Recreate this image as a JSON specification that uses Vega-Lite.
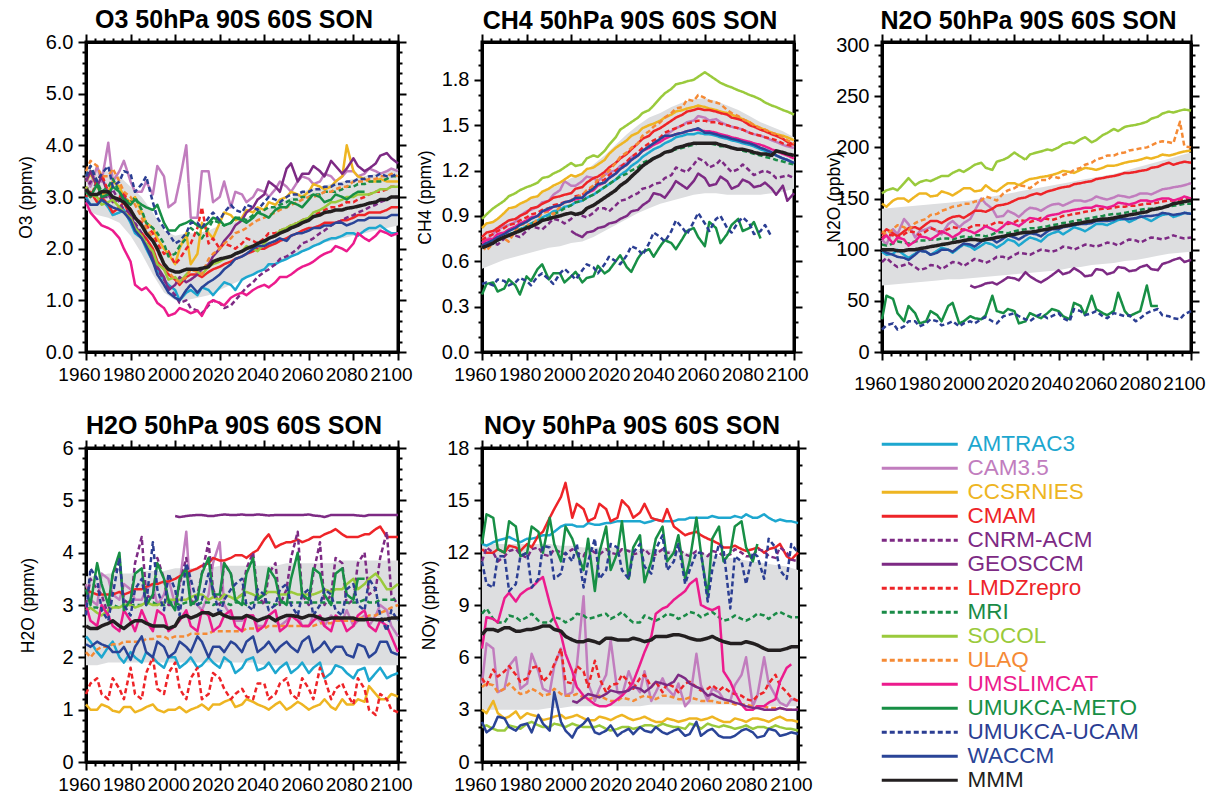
{
"$schema": "https://vega.github.io/schema/vega-lite/v6.json",
"padding": {"left": 15, "top": 6, "right": 5, "bottom": 0},
"background": "white",
"bounds": "flush",
"columns": 3,
"spacing": {"row": 96, "column": 84},
"config": {
  "font": "Liberation Sans",
  "view": {"stroke": "black", "strokeWidth": 3},
  "axis": {"domainColor": "black", "domainWidth": 3, "tickColor": "black", "tickWidth": 2, "labelColor": "black", "titleColor": "black", "grid": false, "labelOverlap": false, "labelFlush": false},
  "title": {"fontSize": 25, "fontWeight": "bold", "font": "Liberation Sans", "color": "black", "anchor": "middle", "frame": "group", "offset": -1, "dx": -8}
},
"datasets": {
"names": [{"k":"a","name":"AMTRAC3"},{"k":"b","name":"CAM3.5"},{"k":"c","name":"CCSRNIES"},{"k":"d","name":"CMAM"},{"k":"e","name":"CNRM-ACM"},{"k":"f","name":"GEOSCCM"},{"k":"g","name":"LMDZrepro"},{"k":"h","name":"MRI"},{"k":"i","name":"SOCOL"},{"k":"j","name":"ULAQ"},{"k":"k","name":"UMSLIMCAT"},{"k":"l","name":"UMUKCA-METO"},{"k":"m","name":"UMUKCA-UCAM"},{"k":"n","name":"WACCM"},{"k":"z","name":"MMM"}],
"o3": [
{"yr":1960,"a":3.0,"b":3.4,"c":3.3,"d":3.0,"e":3.1,"f":3.3,"g":3.2,"h":3.4,"i":3.2,"j":3.5,"k":2.9,"l":3.1,"m":3.4,"n":2.95,"z":3.15,"lo":2.75,"hi":3.55},
{"yr":1965,"a":2.85,"b":3.6,"c":3.2,"d":2.9,"e":3.2,"f":3.2,"g":3.3,"h":3.3,"i":3.0,"j":3.6,"k":2.55,"l":3.25,"m":3.3,"n":2.85,"z":3.05,"lo":2.65,"hi":3.5},
{"yr":1970,"a":2.8,"b":4.05,"c":3.1,"d":2.85,"e":3.0,"f":3.05,"g":3.1,"h":3.2,"i":2.9,"j":3.4,"k":2.4,"l":3.05,"m":3.6,"n":2.85,"z":3.1,"lo":2.6,"hi":3.5},
{"yr":1975,"a":2.7,"b":3.5,"c":3.2,"d":2.8,"e":2.9,"f":2.95,"g":3.0,"h":3.1,"i":2.8,"j":3.3,"k":2.2,"l":3.1,"m":3.3,"n":2.75,"z":2.95,"lo":2.5,"hi":3.4},
{"yr":1980,"a":2.5,"b":3.3,"c":2.9,"d":2.6,"e":2.7,"f":2.65,"g":2.75,"h":2.9,"i":2.6,"j":3.0,"k":1.75,"l":2.85,"m":3.45,"n":2.55,"z":2.75,"lo":2.25,"hi":3.2},
{"yr":1985,"a":2.2,"b":3.1,"c":2.7,"d":2.3,"e":2.3,"f":2.25,"g":2.5,"h":2.75,"i":2.25,"j":2.6,"k":1.2,"l":2.85,"m":3.25,"n":2.2,"z":2.45,"lo":1.9,"hi":3.0},
{"yr":1990,"a":1.75,"b":3.05,"c":2.4,"d":2.0,"e":1.9,"f":1.85,"g":2.3,"h":2.4,"i":1.95,"j":2.2,"k":1.1,"l":2.75,"m":2.9,"n":1.75,"z":2.15,"lo":1.5,"hi":2.7},
{"yr":1995,"a":1.4,"b":3.4,"c":2.0,"d":1.6,"e":1.4,"f":1.45,"g":1.9,"h":2.1,"i":1.6,"j":1.7,"k":0.85,"l":2.5,"m":2.4,"n":1.3,"z":1.7,"lo":1.15,"hi":2.35},
{"yr":2000,"a":1.2,"b":2.9,"c":1.7,"d":1.4,"e":1.1,"f":1.3,"g":1.7,"h":1.9,"i":1.45,"j":1.4,"k":0.75,"l":2.35,"m":2.1,"n":1.05,"z":1.55,"lo":1.0,"hi":2.25},
{"yr":2005,"a":1.15,"b":4.0,"c":2.3,"d":1.45,"e":1.0,"f":1.35,"g":2.0,"h":2.2,"i":1.5,"j":1.45,"k":0.8,"l":2.5,"m":2.3,"n":1.2,"z":1.6,"lo":1.0,"hi":2.3},
{"yr":2010,"a":1.1,"b":2.6,"c":1.9,"d":1.5,"e":0.8,"f":1.5,"g":2.4,"h":2.3,"i":1.55,"j":1.55,"k":0.8,"l":2.45,"m":2.5,"n":1.15,"z":1.6,"lo":1.05,"hi":2.3},
{"yr":2015,"a":1.2,"b":3.5,"c":2.3,"d":1.55,"e":0.9,"f":1.7,"g":2.1,"h":2.4,"i":1.65,"j":1.8,"k":0.95,"l":2.5,"m":2.6,"n":1.35,"z":1.65,"lo":1.1,"hi":2.35},
{"yr":2020,"a":1.25,"b":3.0,"c":2.5,"d":1.65,"e":0.95,"f":2.0,"g":2.0,"h":2.5,"i":1.75,"j":2.0,"k":0.95,"l":2.55,"m":2.55,"n":1.5,"z":1.8,"lo":1.2,"hi":2.45},
{"yr":2025,"a":1.3,"b":2.8,"c":2.65,"d":1.75,"e":0.9,"f":2.3,"g":2.05,"h":2.5,"i":1.85,"j":2.2,"k":1.05,"l":2.5,"m":2.85,"n":1.7,"z":1.85,"lo":1.3,"hi":2.5},
{"yr":2030,"a":1.4,"b":3.05,"c":2.6,"d":1.85,"e":1.15,"f":2.55,"g":2.1,"h":2.6,"i":1.95,"j":2.35,"k":1.15,"l":2.55,"m":2.7,"n":1.85,"z":1.95,"lo":1.4,"hi":2.55},
{"yr":2035,"a":1.5,"b":3.0,"c":2.7,"d":1.95,"e":1.35,"f":2.8,"g":2.15,"h":2.65,"i":2.0,"j":2.5,"k":1.2,"l":2.6,"m":2.8,"n":2.0,"z":2.05,"lo":1.5,"hi":2.65},
{"yr":2040,"a":1.6,"b":3.1,"c":2.75,"d":2.0,"e":1.55,"f":3.05,"g":2.2,"h":2.75,"i":2.1,"j":2.6,"k":1.3,"l":2.65,"m":2.9,"n":2.05,"z":2.15,"lo":1.6,"hi":2.75},
{"yr":2045,"a":1.7,"b":3.15,"c":2.85,"d":2.1,"e":1.7,"f":3.2,"g":2.3,"h":2.8,"i":2.25,"j":2.7,"k":1.35,"l":2.75,"m":2.95,"n":2.15,"z":2.25,"lo":1.7,"hi":2.85},
{"yr":2050,"a":1.8,"b":3.2,"c":3.0,"d":2.2,"e":1.85,"f":3.55,"g":2.4,"h":2.9,"i":2.4,"j":2.8,"k":1.45,"l":2.8,"m":3.0,"n":2.15,"z":2.35,"lo":1.8,"hi":2.95},
{"yr":2055,"a":1.9,"b":3.3,"c":3.05,"d":2.3,"e":2.0,"f":3.3,"g":2.5,"h":2.95,"i":2.5,"j":2.9,"k":1.6,"l":2.85,"m":3.05,"n":2.3,"z":2.45,"lo":1.9,"hi":3.05},
{"yr":2060,"a":2.0,"b":3.35,"c":3.1,"d":2.4,"e":2.15,"f":3.45,"g":2.6,"h":3.0,"i":2.6,"j":3.0,"k":1.7,"l":2.95,"m":3.1,"n":2.35,"z":2.55,"lo":2.0,"hi":3.15},
{"yr":2065,"a":2.1,"b":3.3,"c":3.2,"d":2.45,"e":2.3,"f":3.5,"g":2.7,"h":3.05,"i":2.75,"j":3.05,"k":1.85,"l":3.0,"m":3.15,"n":2.4,"z":2.65,"lo":2.1,"hi":3.2},
{"yr":2070,"a":2.2,"b":3.4,"c":3.2,"d":2.5,"e":2.45,"f":3.7,"g":2.8,"h":3.1,"i":2.9,"j":3.1,"k":1.95,"l":2.95,"m":3.2,"n":2.45,"z":2.72,"lo":2.15,"hi":3.25},
{"yr":2075,"a":2.25,"b":3.4,"c":3.4,"d":2.55,"e":2.55,"f":3.45,"g":2.85,"h":3.15,"i":2.95,"j":3.2,"k":2.0,"l":3.0,"m":3.25,"n":2.5,"z":2.75,"lo":2.2,"hi":3.3},
{"yr":2080,"a":2.3,"b":3.5,"c":3.5,"d":2.6,"e":2.65,"f":3.75,"g":2.9,"h":3.2,"i":3.0,"j":3.3,"k":2.1,"l":3.05,"m":3.3,"n":2.5,"z":2.8,"lo":2.25,"hi":3.35},
{"yr":2085,"a":2.35,"b":3.45,"c":3.35,"d":2.65,"e":2.75,"f":3.5,"g":3.0,"h":3.25,"i":3.05,"j":3.3,"k":2.2,"l":3.1,"m":3.35,"n":2.55,"z":2.85,"lo":2.3,"hi":3.4},
{"yr":2090,"a":2.4,"b":3.5,"c":3.3,"d":2.7,"e":2.85,"f":3.65,"g":3.1,"h":3.3,"i":3.1,"j":3.35,"k":2.25,"m":3.4,"n":2.6,"z":2.9,"lo":2.35,"hi":3.45},
{"yr":2095,"a":2.35,"b":3.5,"c":3.3,"d":2.75,"e":2.95,"f":3.85,"g":3.15,"h":3.35,"i":3.15,"j":3.4,"k":2.3,"m":3.4,"n":2.6,"z":2.95,"lo":2.4,"hi":3.5},
{"yr":2100,"a":2.3,"b":3.5,"c":3.3,"d":2.8,"e":3.0,"f":3.65,"g":3.2,"h":3.4,"i":3.2,"j":3.4,"k":2.3,"m":3.45,"n":2.65,"z":3.0,"lo":2.45,"hi":3.55},
{"yr":1962,"a":2.85,"b":3.2,"c":3.45,"d":3.1,"e":3.3,"f":3.5,"g":3.0,"h":3.6,"i":3.05,"j":3.7,"k":2.7,"l":3.0,"m":3.6,"n":2.85,"z":3.05},
{"yr":1967,"a":2.95,"b":3.3,"c":3.05,"d":3.0,"e":3.0,"f":3.4,"g":3.45,"h":3.1,"i":2.85,"j":3.4,"k":2.45,"l":3.0,"m":3.45,"n":2.95,"z":3.1},
{"yr":1972,"a":2.65,"b":3.3,"c":3.3,"d":2.7,"e":3.15,"f":2.9,"g":2.95,"h":3.35,"i":2.95,"j":3.55,"k":2.35,"l":3.2,"m":3.2,"n":2.8,"z":3.0},
{"yr":1977,"a":2.75,"b":3.7,"c":3.0,"d":2.9,"e":2.75,"f":3.05,"g":3.1,"h":2.95,"i":2.7,"j":3.1,"k":2.0,"l":2.95,"m":3.5,"n":2.7,"z":2.9},
{"yr":1982,"a":2.3,"b":3.1,"c":3.0,"d":2.4,"e":2.5,"f":2.45,"g":2.6,"h":3.0,"i":2.4,"j":2.85,"k":1.3,"l":2.95,"m":3.1,"n":2.35,"z":2.6},
{"yr":1987,"a":2.0,"b":3.3,"c":2.5,"d":2.2,"e":2.1,"f":2.05,"g":2.45,"h":2.5,"i":2.1,"j":2.4,"k":1.25,"l":2.8,"m":3.4,"n":2.05,"z":2.3},
{"yr":1992,"a":1.6,"b":3.6,"c":2.2,"d":1.75,"e":1.6,"f":1.65,"g":2.1,"h":2.3,"i":1.7,"j":1.95,"k":0.95,"l":2.85,"m":2.6,"n":1.5,"z":2.0},
{"yr":1997,"a":1.3,"b":2.8,"c":1.9,"d":1.5,"e":1.25,"f":1.2,"g":1.95,"h":1.85,"i":1.4,"j":1.55,"k":0.7,"l":2.35,"m":2.3,"n":1.15,"z":1.6},
{"yr":2002,"a":1.0,"b":3.3,"c":2.0,"d":1.3,"e":0.95,"f":1.45,"g":1.8,"h":2.05,"i":1.35,"j":1.35,"k":0.85,"l":2.45,"m":2.15,"n":1.0,"z":1.55},
{"yr":2007,"a":1.2,"b":2.6,"c":1.7,"d":1.5,"e":0.85,"f":1.4,"g":2.1,"h":2.4,"i":1.6,"j":1.6,"k":0.75,"l":2.55,"m":2.5,"n":1.3,"z":1.6},
{"yr":2012,"a":1.25,"b":3.5,"c":2.5,"d":1.45,"e":0.75,"f":1.6,"g":2.8,"h":2.2,"i":1.5,"j":1.5,"k":0.7,"l":2.4,"m":2.4,"n":1.25,"z":1.62},
{"yr":2017,"a":1.1,"b":2.9,"c":2.2,"d":1.6,"e":1.0,"f":1.85,"g":2.2,"h":2.55,"i":1.7,"j":1.9,"k":1.0,"l":2.6,"m":2.7,"n":1.4,"z":1.75},
{"yr":2022,"a":1.35,"b":3.3,"c":2.7,"d":1.7,"e":0.85,"f":2.15,"g":2.1,"h":2.45,"i":1.8,"j":2.1,"k":0.9,"l":2.45,"m":2.7,"n":1.6,"z":1.82},
{"yr":2027,"a":1.2,"b":3.1,"c":2.55,"d":1.8,"e":1.0,"f":2.45,"g":2.0,"h":2.6,"i":1.9,"j":2.3,"k":1.1,"l":2.6,"m":2.75,"n":1.8,"z":1.9},
{"yr":2032,"a":1.45,"b":2.9,"c":2.75,"d":1.9,"e":1.25,"f":2.7,"g":2.2,"h":2.55,"i":2.05,"j":2.4,"k":1.1,"l":2.5,"m":2.85,"n":1.9,"z":2.0},
{"yr":2037,"a":1.55,"b":3.15,"c":2.8,"d":2.0,"e":1.45,"f":2.95,"g":2.1,"h":2.7,"i":1.95,"j":2.55,"k":1.25,"l":2.7,"m":2.75,"n":2.05,"z":2.1},
{"yr":2042,"a":1.7,"b":3.0,"c":2.9,"d":2.05,"e":1.6,"f":3.3,"g":2.3,"h":2.8,"i":2.2,"j":2.65,"k":1.25,"l":2.6,"m":3.0,"n":2.1,"z":2.2},
{"yr":2047,"a":1.75,"b":3.3,"c":2.95,"d":2.15,"e":1.8,"f":3.1,"g":2.35,"h":2.85,"i":2.35,"j":2.75,"k":1.45,"l":2.8,"m":2.9,"n":2.2,"z":2.3},
{"yr":2052,"a":1.85,"b":3.1,"c":3.1,"d":2.25,"e":1.9,"f":3.65,"g":2.45,"h":2.95,"i":2.45,"j":2.85,"k":1.5,"l":2.9,"m":3.05,"n":2.25,"z":2.4},
{"yr":2057,"a":1.95,"b":3.4,"c":3.0,"d":2.35,"e":2.1,"f":3.45,"g":2.55,"h":3.0,"i":2.55,"j":2.95,"k":1.65,"l":2.8,"m":3.1,"n":2.3,"z":2.5},
{"yr":2062,"a":2.05,"b":3.25,"c":3.25,"d":2.4,"e":2.2,"f":3.6,"g":2.65,"h":3.05,"i":2.7,"j":3.0,"k":1.75,"l":3.05,"m":3.15,"n":2.4,"z":2.62},
{"yr":2067,"a":2.15,"b":3.45,"c":3.15,"d":2.5,"e":2.35,"f":3.4,"g":2.75,"h":3.1,"i":2.8,"j":3.1,"k":1.9,"l":2.9,"m":3.2,"n":2.45,"z":2.7},
{"yr":2072,"a":2.2,"b":3.3,"c":3.3,"d":2.5,"e":2.5,"f":3.6,"g":2.8,"h":3.1,"i":2.9,"j":3.15,"k":2.05,"l":3.05,"m":3.25,"n":2.5,"z":2.75},
{"yr":2077,"a":2.3,"b":3.5,"c":4.0,"d":2.55,"e":2.6,"f":3.55,"g":2.9,"h":3.2,"i":3.0,"j":3.2,"k":1.95,"l":2.95,"m":3.3,"n":2.45,"z":2.78},
{"yr":2082,"a":2.25,"b":3.4,"c":3.4,"d":2.65,"e":2.7,"f":3.6,"g":2.95,"h":3.25,"i":3.05,"j":3.3,"k":2.3,"l":3.1,"m":3.35,"n":2.55,"z":2.82},
{"yr":2087,"a":2.4,"b":3.55,"c":3.3,"d":2.7,"e":2.8,"f":3.55,"g":3.05,"h":3.3,"i":3.05,"j":3.35,"k":2.15,"m":3.4,"n":2.6,"z":2.88},
{"yr":2092,"a":2.45,"b":3.45,"c":3.35,"d":2.7,"e":2.9,"f":3.8,"g":3.1,"h":3.3,"i":3.15,"j":3.4,"k":2.35,"m":3.45,"n":2.6,"z":2.95},
{"yr":2097,"a":2.3,"b":3.55,"c":3.3,"d":2.8,"e":3.0,"f":3.75,"g":3.2,"h":3.4,"i":3.2,"j":3.45,"k":2.25,"m":3.4,"n":2.65,"z":3.0}
],
"ch4": [
{"yr":1960,"a":0.69,"b":0.72,"c":0.82,"d":0.76,"e":0.70,"g":0.74,"h":0.70,"i":0.88,"j":0.70,"k":0.72,"l":0.38,"m":0.45,"n":0.70,"z":0.69,"lo":0.55,"hi":0.83},
{"yr":1965,"a":0.72,"b":0.78,"c":0.86,"d":0.80,"e":0.72,"g":0.78,"h":0.72,"i":0.95,"j":0.72,"k":0.75,"l":0.46,"m":0.44,"n":0.74,"z":0.72,"lo":0.58,"hi":0.87},
{"yr":1970,"a":0.76,"b":0.83,"c":0.92,"d":0.85,"e":0.75,"g":0.82,"h":0.76,"i":1.0,"j":0.75,"k":0.79,"l":0.42,"m":0.47,"n":0.78,"z":0.76,"lo":0.61,"hi":0.92},
{"yr":1975,"a":0.79,"b":0.86,"c":0.96,"d":0.88,"e":0.77,"g":0.85,"h":0.79,"i":1.05,"j":0.80,"k":0.83,"l":0.44,"m":0.46,"n":0.82,"z":0.79,"lo":0.63,"hi":0.96},
{"yr":1980,"a":0.83,"b":0.93,"c":1.0,"d":0.92,"e":0.80,"g":0.89,"h":0.83,"i":1.09,"j":0.85,"k":0.87,"l":0.50,"m":0.47,"n":0.86,"z":0.82,"lo":0.65,"hi":1.0},
{"yr":1985,"a":0.87,"b":0.96,"c":1.03,"d":0.96,"e":0.82,"g":0.92,"h":0.86,"i":1.12,"j":0.88,"k":0.90,"l":0.55,"m":0.50,"n":0.90,"z":0.85,"lo":0.67,"hi":1.04},
{"yr":1990,"a":0.91,"b":1.0,"c":1.08,"d":1.0,"e":0.85,"g":0.95,"h":0.89,"i":1.16,"j":0.93,"k":0.94,"l":0.48,"m":0.48,"n":0.95,"z":0.88,"lo":0.69,"hi":1.08},
{"yr":1995,"a":0.94,"b":1.07,"c":1.12,"d":1.03,"e":0.87,"g":0.98,"h":0.93,"i":1.2,"j":0.96,"k":0.97,"l":0.52,"m":0.52,"n":0.97,"z":0.90,"lo":0.70,"hi":1.11},
{"yr":2000,"a":0.97,"b":1.1,"c":1.17,"d":1.05,"e":0.88,"f":0.80,"g":1.0,"h":0.97,"i":1.25,"j":1.0,"k":1.0,"l":0.50,"m":0.51,"n":1.0,"z":0.92,"lo":0.72,"hi":1.15},
{"yr":2005,"a":1.0,"b":1.13,"c":1.18,"d":1.09,"e":0.90,"f":0.76,"g":1.04,"h":1.0,"i":1.24,"j":1.04,"k":1.02,"l":0.46,"m":0.54,"n":1.02,"z":0.92,"lo":0.73,"hi":1.18},
{"yr":2010,"a":1.04,"b":1.15,"c":1.22,"d":1.15,"e":0.92,"f":0.80,"g":1.09,"h":1.04,"i":1.3,"j":1.1,"k":1.07,"l":0.50,"m":0.56,"n":1.08,"z":0.97,"lo":0.76,"hi":1.24},
{"yr":2015,"a":1.09,"b":1.17,"c":1.27,"d":1.19,"e":0.95,"f":0.83,"g":1.14,"h":1.09,"i":1.33,"j":1.17,"k":1.12,"l":0.52,"m":0.58,"n":1.12,"z":1.02,"lo":0.80,"hi":1.3},
{"yr":2020,"a":1.14,"b":1.2,"c":1.35,"d":1.25,"e":0.97,"f":0.86,"g":1.2,"h":1.14,"i":1.42,"j":1.25,"k":1.18,"l":0.60,"m":0.60,"n":1.18,"z":1.07,"lo":0.84,"hi":1.37},
{"yr":2025,"a":1.2,"b":1.25,"c":1.4,"d":1.31,"e":1.01,"f":0.90,"g":1.26,"h":1.18,"i":1.5,"j":1.32,"k":1.24,"l":0.56,"m":0.64,"n":1.24,"z":1.13,"lo":0.88,"hi":1.44},
{"yr":2030,"a":1.26,"b":1.3,"c":1.45,"d":1.38,"e":1.05,"f":0.94,"g":1.32,"h":1.22,"i":1.55,"j":1.38,"k":1.3,"l":0.62,"m":0.68,"n":1.3,"z":1.2,"lo":0.92,"hi":1.5},
{"yr":2035,"a":1.32,"b":1.36,"c":1.5,"d":1.43,"e":1.09,"f":1.0,"g":1.38,"h":1.27,"i":1.6,"j":1.46,"k":1.35,"l":0.68,"m":0.72,"n":1.36,"z":1.26,"lo":0.95,"hi":1.55},
{"yr":2040,"a":1.36,"b":1.4,"c":1.53,"d":1.48,"e":1.12,"f":1.04,"g":1.42,"h":1.3,"i":1.68,"j":1.52,"k":1.39,"l":0.70,"m":0.76,"n":1.41,"z":1.3,"lo":0.98,"hi":1.58},
{"yr":2045,"a":1.4,"b":1.46,"c":1.57,"d":1.53,"e":1.17,"f":1.08,"g":1.47,"h":1.33,"i":1.74,"j":1.58,"k":1.43,"l":0.72,"m":0.80,"n":1.43,"z":1.33,"lo":1.0,"hi":1.62},
{"yr":2050,"a":1.43,"b":1.5,"c":1.6,"d":1.57,"e":1.2,"f":1.1,"g":1.5,"h":1.35,"i":1.78,"j":1.62,"k":1.45,"l":0.75,"m":0.82,"n":1.45,"z":1.36,"lo":1.02,"hi":1.65},
{"yr":2055,"a":1.44,"b":1.53,"c":1.62,"d":1.6,"e":1.24,"f":1.13,"g":1.52,"h":1.37,"i":1.8,"j":1.66,"k":1.47,"l":0.82,"m":0.86,"n":1.47,"z":1.38,"lo":1.04,"hi":1.67},
{"yr":2060,"a":1.44,"b":1.55,"c":1.62,"d":1.6,"e":1.26,"f":1.15,"g":1.53,"h":1.38,"i":1.85,"j":1.68,"k":1.46,"l":0.70,"m":0.85,"n":1.45,"z":1.38,"lo":1.05,"hi":1.68},
{"yr":2065,"a":1.43,"b":1.54,"c":1.6,"d":1.59,"e":1.24,"f":1.11,"g":1.52,"h":1.37,"i":1.8,"j":1.65,"k":1.45,"l":0.82,"m":0.88,"n":1.44,"z":1.38,"lo":1.05,"hi":1.66},
{"yr":2070,"a":1.41,"b":1.5,"c":1.58,"d":1.57,"e":1.22,"f":1.13,"g":1.5,"h":1.36,"i":1.76,"j":1.6,"k":1.43,"l":0.78,"m":0.82,"n":1.42,"z":1.36,"lo":1.04,"hi":1.63},
{"yr":2075,"a":1.39,"b":1.48,"c":1.55,"d":1.54,"e":1.21,"f":1.10,"g":1.48,"h":1.34,"i":1.73,"j":1.56,"k":1.41,"l":0.88,"m":0.86,"n":1.4,"z":1.34,"lo":1.04,"hi":1.6},
{"yr":2080,"a":1.37,"b":1.45,"c":1.52,"d":1.5,"e":1.2,"f":1.12,"g":1.45,"h":1.32,"i":1.7,"j":1.52,"k":1.39,"l":0.82,"m":0.85,"n":1.38,"z":1.33,"lo":1.04,"hi":1.56},
{"yr":2085,"a":1.34,"b":1.43,"c":1.48,"d":1.47,"e":1.19,"f":1.1,"g":1.43,"h":1.3,"i":1.67,"j":1.48,"k":1.37,"l":0.75,"m":0.80,"n":1.35,"z":1.31,"lo":1.04,"hi":1.52},
{"yr":2090,"a":1.31,"b":1.4,"c":1.45,"d":1.44,"e":1.18,"f":1.08,"g":1.41,"h":1.28,"i":1.63,"j":1.45,"k":1.34,"m":0.76,"n":1.32,"z":1.3,"lo":1.05,"hi":1.49},
{"yr":2095,"a":1.28,"b":1.37,"c":1.43,"d":1.41,"e":1.16,"f":1.1,"g":1.38,"h":1.26,"i":1.6,"j":1.42,"k":1.31,"n":1.28,"z":1.32,"lo":1.06,"hi":1.46},
{"yr":2100,"a":1.25,"b":1.35,"c":1.4,"d":1.37,"e":1.15,"f":1.05,"g":1.36,"h":1.24,"i":1.57,"j":1.38,"k":1.28,"n":1.25,"z":1.3,"lo":1.08,"hi":1.42},
{"yr":1962,"a":0.71,"b":0.74,"c":0.85,"d":0.79,"e":0.73,"g":0.76,"h":0.72,"i":0.91,"j":0.67,"k":0.74,"l":0.45,"m":0.46,"n":0.72,"z":0.70},
{"yr":1967,"a":0.74,"b":0.81,"c":0.88,"d":0.82,"e":0.71,"g":0.80,"h":0.74,"i":0.97,"j":0.76,"k":0.78,"l":0.40,"m":0.48,"n":0.76,"z":0.74},
{"yr":1972,"a":0.78,"b":0.84,"c":0.95,"d":0.87,"e":0.78,"g":0.84,"h":0.78,"i":1.03,"j":0.73,"k":0.81,"l":0.48,"m":0.44,"n":0.80,"z":0.77},
{"yr":1977,"a":0.81,"b":0.90,"c":0.98,"d":0.90,"e":0.76,"g":0.87,"h":0.81,"i":1.07,"j":0.84,"k":0.85,"l":0.38,"m":0.49,"n":0.84,"z":0.80},
{"yr":1982,"a":0.85,"b":0.94,"c":1.02,"d":0.95,"e":0.83,"g":0.91,"h":0.85,"i":1.10,"j":0.83,"k":0.89,"l":0.47,"m":0.44,"n":0.88,"z":0.83},
{"yr":1987,"a":0.89,"b":0.99,"c":1.06,"d":0.98,"e":0.81,"g":0.94,"h":0.88,"i":1.15,"j":0.92,"k":0.93,"l":0.58,"m":0.52,"n":0.93,"z":0.87},
{"yr":1992,"a":0.93,"b":1.04,"c":1.10,"d":1.02,"e":0.88,"g":0.97,"h":0.91,"i":1.18,"j":0.91,"k":0.96,"l":0.52,"m":0.45,"n":0.96,"z":0.89},
{"yr":1997,"a":0.96,"b":1.13,"c":1.14,"d":1.04,"e":0.85,"g":0.99,"h":0.95,"i":1.22,"j":0.99,"k":0.99,"l":0.46,"m":0.55,"n":0.99,"z":0.91},
{"yr":2002,"a":0.99,"b":1.1,"c":1.16,"d":1.08,"e":0.91,"f":0.78,"g":1.03,"h":0.99,"i":1.23,"j":1.02,"k":1.01,"l":0.53,"m":0.48,"n":1.02,"z":0.91},
{"yr":2007,"a":1.02,"b":1.16,"c":1.21,"d":1.12,"e":0.89,"f":0.79,"g":1.06,"h":1.02,"i":1.28,"j":1.07,"k":1.05,"l":0.49,"m":0.58,"n":1.05,"z":0.95},
{"yr":2012,"a":1.06,"b":1.13,"c":1.24,"d":1.16,"e":0.95,"f":0.82,"g":1.12,"h":1.06,"i":1.29,"j":1.14,"k":1.1,"l":0.57,"m":0.52,"n":1.11,"z":0.99},
{"yr":2017,"a":1.11,"b":1.19,"c":1.31,"d":1.22,"e":0.93,"f":0.85,"g":1.17,"h":1.11,"i":1.37,"j":1.2,"k":1.15,"l":0.54,"m":0.63,"n":1.15,"z":1.04},
{"yr":2022,"a":1.17,"b":1.23,"c":1.37,"d":1.28,"e":1.0,"f":0.88,"g":1.22,"h":1.16,"i":1.47,"j":1.29,"k":1.21,"l":0.64,"m":0.58,"n":1.21,"z":1.10},
{"yr":2027,"a":1.23,"b":1.29,"c":1.43,"d":1.34,"e":1.03,"f":0.93,"g":1.29,"h":1.20,"i":1.52,"j":1.35,"k":1.27,"l":0.53,"m":0.70,"n":1.27,"z":1.16},
{"yr":2032,"a":1.29,"b":1.33,"c":1.48,"d":1.41,"e":1.08,"f":0.97,"g":1.35,"h":1.25,"i":1.58,"j":1.43,"k":1.33,"l":0.66,"m":0.64,"n":1.33,"z":1.23},
{"yr":2037,"a":1.34,"b":1.38,"c":1.51,"d":1.46,"e":1.11,"f":1.05,"g":1.4,"h":1.28,"i":1.63,"j":1.49,"k":1.37,"l":0.63,"m":0.79,"n":1.38,"z":1.28},
{"yr":2042,"a":1.38,"b":1.43,"c":1.55,"d":1.5,"e":1.15,"f":1.02,"g":1.45,"h":1.32,"i":1.71,"j":1.55,"k":1.41,"l":0.74,"m":0.73,"n":1.43,"z":1.32},
{"yr":2047,"a":1.42,"b":1.48,"c":1.59,"d":1.55,"e":1.22,"f":1.13,"g":1.48,"h":1.34,"i":1.77,"j":1.61,"k":1.44,"l":0.68,"m":0.87,"n":1.44,"z":1.35},
{"yr":2052,"a":1.44,"b":1.52,"c":1.61,"d":1.59,"e":1.19,"f":1.08,"g":1.51,"h":1.36,"i":1.79,"j":1.67,"k":1.46,"l":0.80,"m":0.78,"n":1.46,"z":1.37},
{"yr":2057,"a":1.45,"b":1.56,"c":1.63,"d":1.61,"e":1.28,"f":1.18,"g":1.53,"h":1.38,"i":1.82,"j":1.7,"k":1.47,"l":0.76,"m":0.92,"n":1.48,"z":1.38},
{"yr":2062,"a":1.44,"b":1.53,"c":1.61,"d":1.6,"e":1.22,"f":1.1,"g":1.52,"h":1.38,"i":1.83,"j":1.66,"k":1.46,"l":0.86,"m":0.80,"n":1.45,"z":1.38},
{"yr":2067,"a":1.42,"b":1.52,"c":1.59,"d":1.58,"e":1.27,"f":1.16,"g":1.51,"h":1.36,"i":1.78,"j":1.64,"k":1.44,"l":0.72,"m":0.90,"n":1.43,"z":1.37},
{"yr":2072,"a":1.4,"b":1.49,"c":1.57,"d":1.55,"e":1.19,"f":1.08,"g":1.49,"h":1.35,"i":1.75,"j":1.58,"k":1.42,"l":0.84,"m":0.79,"n":1.41,"z":1.35},
{"yr":2077,"a":1.38,"b":1.47,"c":1.54,"d":1.53,"e":1.24,"f":1.14,"g":1.47,"h":1.33,"i":1.72,"j":1.54,"k":1.4,"l":0.80,"m":0.89,"n":1.39,"z":1.34},
{"yr":2082,"a":1.36,"b":1.44,"c":1.5,"d":1.49,"e":1.17,"f":1.09,"g":1.44,"h":1.31,"i":1.69,"j":1.5,"k":1.38,"l":0.86,"m":0.78,"n":1.37,"z":1.32},
{"yr":2087,"a":1.33,"b":1.42,"c":1.47,"d":1.46,"e":1.2,"f":1.12,"g":1.42,"h":1.29,"i":1.65,"j":1.47,"k":1.36,"m":0.84,"n":1.34,"z":1.31},
{"yr":2092,"a":1.3,"b":1.39,"c":1.44,"d":1.43,"e":1.15,"f":1.04,"g":1.4,"h":1.27,"i":1.62,"j":1.44,"k":1.33,"n":1.3,"z":1.33},
{"yr":2097,"a":1.27,"b":1.36,"c":1.42,"d":1.39,"e":1.17,"f":1.0,"g":1.37,"h":1.25,"i":1.59,"j":1.4,"k":1.3,"n":1.27,"z":1.31}
],
"n2o": [
{"yr":1960,"a":98,"b":110,"c":145,"d":115,"e":88,"g":112,"h":105,"i":155,"j":118,"k":110,"l":32,"m":22,"n":100,"z":100,"lo":65,"hi":140},
{"yr":1965,"a":96,"b":120,"c":148,"d":116,"e":86,"g":114,"h":106,"i":160,"j":120,"k":106,"l":52,"m":28,"n":95,"z":100,"lo":66,"hi":141},
{"yr":1970,"a":95,"b":130,"c":150,"d":118,"e":85,"g":115,"h":107,"i":165,"j":122,"k":110,"l":30,"m":25,"n":92,"z":99,"lo":67,"hi":142},
{"yr":1975,"a":96,"b":112,"c":152,"d":122,"e":83,"g":117,"h":108,"i":163,"j":126,"k":108,"l":38,"m":30,"n":95,"z":100,"lo":68,"hi":143},
{"yr":1980,"a":98,"b":120,"c":155,"d":125,"e":82,"g":118,"h":109,"i":168,"j":130,"k":112,"l":30,"m":28,"n":98,"z":102,"lo":69,"hi":144},
{"yr":1985,"a":99,"b":118,"c":153,"d":128,"e":84,"g":119,"h":110,"i":170,"j":135,"k":114,"l":36,"m":30,"n":97,"z":104,"lo":70,"hi":145},
{"yr":1990,"a":100,"b":125,"c":155,"d":130,"e":85,"g":120,"h":111,"i":172,"j":140,"k":115,"l":45,"m":28,"n":100,"z":106,"lo":71,"hi":146},
{"yr":1995,"a":102,"b":122,"c":157,"d":133,"e":87,"g":121,"h":112,"i":178,"j":143,"k":116,"l":28,"m":25,"n":103,"z":108,"lo":71,"hi":147},
{"yr":2000,"a":103,"b":130,"c":160,"d":135,"e":88,"f":65,"g":122,"h":112,"i":180,"j":145,"k":118,"l":35,"m":30,"n":105,"z":110,"lo":72,"hi":148},
{"yr":2005,"a":104,"b":150,"c":158,"d":138,"e":89,"f":65,"g":124,"h":114,"i":185,"j":148,"k":120,"l":32,"m":32,"n":108,"z":109,"lo":73,"hi":150},
{"yr":2010,"a":105,"b":140,"c":158,"d":140,"e":90,"f":68,"g":125,"h":115,"i":178,"j":150,"k":120,"l":55,"m":30,"n":110,"z":111,"lo":74,"hi":152},
{"yr":2015,"a":106,"b":133,"c":162,"d":144,"e":93,"f":70,"g":126,"h":117,"i":188,"j":155,"k":123,"l":38,"m":35,"n":111,"z":113,"lo":75,"hi":154},
{"yr":2020,"a":108,"b":135,"c":165,"d":148,"e":95,"f":72,"g":127,"h":118,"i":195,"j":160,"k":125,"l":40,"m":38,"n":112,"z":115,"lo":76,"hi":156},
{"yr":2025,"a":109,"b":138,"c":167,"d":151,"e":96,"f":78,"g":128,"h":120,"i":188,"j":162,"k":128,"l":30,"m":32,"n":114,"z":117,"lo":77,"hi":158},
{"yr":2030,"a":110,"b":140,"c":170,"d":155,"e":98,"f":70,"g":129,"h":121,"i":195,"j":165,"k":130,"l":35,"m":35,"n":115,"z":118,"lo":78,"hi":160},
{"yr":2035,"a":114,"b":142,"c":172,"d":157,"e":99,"f":72,"g":130,"h":123,"i":198,"j":168,"k":133,"l":38,"m":33,"n":118,"z":120,"lo":79,"hi":162},
{"yr":2040,"a":118,"b":145,"c":175,"d":160,"e":100,"f":80,"g":131,"h":125,"i":200,"j":170,"k":135,"l":40,"m":38,"n":120,"z":122,"lo":80,"hi":164},
{"yr":2045,"a":119,"b":146,"c":176,"d":162,"e":102,"f":78,"g":134,"h":127,"i":205,"j":175,"k":138,"l":32,"m":30,"n":123,"z":124,"lo":82,"hi":166},
{"yr":2050,"a":120,"b":148,"c":178,"d":165,"e":103,"f":78,"g":136,"h":129,"i":208,"j":180,"k":140,"l":45,"m":40,"n":125,"z":126,"lo":83,"hi":168},
{"yr":2055,"a":122,"b":149,"c":179,"d":167,"e":104,"f":75,"g":138,"h":131,"i":205,"j":185,"k":141,"l":55,"m":38,"n":126,"z":128,"lo":85,"hi":170},
{"yr":2060,"a":125,"b":150,"c":180,"d":170,"e":105,"f":80,"g":140,"h":133,"i":212,"j":190,"k":142,"l":38,"m":35,"n":128,"z":130,"lo":86,"hi":172},
{"yr":2065,"a":127,"b":151,"c":182,"d":172,"e":106,"f":78,"g":141,"h":135,"i":218,"j":192,"k":143,"l":40,"m":38,"n":129,"z":131,"lo":87,"hi":174},
{"yr":2070,"a":130,"b":152,"c":185,"d":175,"e":108,"f":82,"g":142,"h":136,"i":220,"j":195,"k":145,"l":40,"m":35,"n":130,"z":133,"lo":89,"hi":177},
{"yr":2075,"a":130,"b":153,"c":187,"d":176,"e":109,"f":80,"g":143,"h":138,"i":222,"j":198,"k":146,"l":38,"m":30,"n":131,"z":135,"lo":90,"hi":180},
{"yr":2080,"a":130,"b":155,"c":190,"d":178,"e":110,"f":85,"g":145,"h":140,"i":225,"j":200,"k":148,"l":65,"m":38,"n":133,"z":137,"lo":92,"hi":183},
{"yr":2085,"a":132,"b":157,"c":191,"d":181,"e":111,"f":80,"g":146,"h":141,"i":230,"j":205,"k":149,"l":45,"m":42,"n":134,"z":140,"lo":94,"hi":186},
{"yr":2090,"a":135,"b":160,"c":192,"d":185,"e":112,"f":88,"g":148,"h":142,"i":235,"j":205,"k":150,"m":35,"n":135,"z":143,"lo":96,"hi":189},
{"yr":2095,"a":134,"b":162,"c":195,"d":185,"e":112,"f":92,"g":149,"h":144,"i":236,"j":225,"k":150,"m":32,"n":135,"z":146,"lo":97,"hi":192},
{"yr":2100,"a":135,"b":165,"c":197,"d":185,"e":112,"f":90,"g":150,"h":145,"i":236,"j":200,"k":150,"m":40,"n":135,"z":148,"lo":98,"hi":195},
{"yr":1962,"a":95,"b":105,"c":142,"d":120,"e":92,"g":115,"h":104,"i":158,"j":115,"k":114,"l":55,"m":26,"n":97,"z":100},
{"yr":1967,"a":100,"b":115,"c":150,"d":113,"e":83,"g":111,"h":108,"i":158,"j":124,"k":112,"l":38,"m":22,"n":93,"z":99},
{"yr":1972,"a":92,"b":125,"c":147,"d":121,"e":87,"g":118,"h":106,"i":170,"j":119,"k":104,"l":45,"m":30,"n":90,"z":100},
{"yr":1977,"a":99,"b":118,"c":155,"d":120,"e":80,"g":114,"h":109,"i":166,"j":128,"k":113,"l":28,"m":25,"n":99,"z":101},
{"yr":1982,"a":95,"b":122,"c":152,"d":128,"e":85,"g":121,"h":110,"i":167,"j":134,"k":110,"l":40,"m":32,"n":95,"z":103},
{"yr":1987,"a":102,"b":115,"c":157,"d":126,"e":81,"g":117,"h":111,"i":172,"j":138,"k":118,"l":30,"m":26,"n":100,"z":105},
{"yr":1992,"a":97,"b":128,"c":153,"d":132,"e":88,"g":122,"h":110,"i":175,"j":142,"k":112,"l":48,"m":30,"n":98,"z":107},
{"yr":1997,"a":105,"b":126,"c":160,"d":131,"e":84,"g":119,"h":113,"i":176,"j":145,"k":120,"l":30,"m":28,"n":106,"z":109},
{"yr":2002,"a":100,"b":138,"c":157,"d":138,"e":91,"f":63,"g":124,"h":114,"i":183,"j":147,"k":116,"l":33,"m":28,"n":103,"z":110},
{"yr":2007,"a":107,"b":145,"c":163,"d":137,"e":87,"f":67,"g":123,"h":113,"i":180,"j":152,"k":123,"l":36,"m":34,"n":110,"z":110},
{"yr":2012,"a":102,"b":132,"c":157,"d":143,"e":93,"f":66,"g":127,"h":117,"i":186,"j":148,"k":118,"l":40,"m":28,"n":107,"z":112},
{"yr":2017,"a":110,"b":138,"c":165,"d":145,"e":91,"f":73,"g":125,"h":116,"i":190,"j":158,"k":127,"l":42,"m":36,"n":114,"z":114},
{"yr":2022,"a":104,"b":132,"c":163,"d":150,"e":97,"f":70,"g":129,"h":119,"i":192,"j":163,"k":123,"l":28,"m":35,"n":110,"z":116},
{"yr":2027,"a":112,"b":141,"c":169,"d":153,"e":95,"f":74,"g":127,"h":121,"i":193,"j":160,"k":131,"l":38,"m":30,"n":116,"z":117},
{"yr":2032,"a":108,"b":138,"c":171,"d":154,"e":100,"f":68,"g":131,"h":122,"i":196,"j":168,"k":128,"l":33,"m":37,"n":113,"z":119},
{"yr":2037,"a":116,"b":144,"c":173,"d":158,"e":98,"f":75,"g":129,"h":124,"i":197,"j":172,"k":134,"l":42,"m":35,"n":120,"z":121},
{"yr":2042,"a":115,"b":143,"c":177,"d":161,"e":103,"f":76,"g":133,"h":126,"i":203,"j":173,"k":137,"l":35,"m":33,"n":122,"z":123},
{"yr":2047,"a":122,"b":148,"c":175,"d":164,"e":100,"f":82,"g":135,"h":128,"i":204,"j":178,"k":139,"l":48,"m":42,"n":124,"z":125},
{"yr":2052,"a":118,"b":147,"c":180,"d":166,"e":105,"f":74,"g":137,"h":130,"i":210,"j":183,"k":141,"l":36,"m":36,"n":125,"z":127},
{"yr":2057,"a":125,"b":152,"c":178,"d":169,"e":103,"f":81,"g":139,"h":132,"i":207,"j":188,"k":143,"l":42,"m":40,"n":128,"z":129},
{"yr":2062,"a":124,"b":149,"c":182,"d":171,"e":107,"f":76,"g":140,"h":134,"i":214,"j":192,"k":141,"l":36,"m":33,"n":128,"z":130},
{"yr":2067,"a":129,"b":153,"c":183,"d":173,"e":104,"f":83,"g":142,"h":135,"i":216,"j":194,"k":146,"l":58,"m":37,"n":131,"z":132},
{"yr":2072,"a":127,"b":151,"c":186,"d":175,"e":110,"f":79,"g":143,"h":137,"i":221,"j":197,"k":144,"l":35,"m":36,"n":130,"z":134},
{"yr":2077,"a":133,"b":155,"c":188,"d":177,"e":107,"f":83,"g":144,"h":139,"i":223,"j":199,"k":148,"l":40,"m":33,"n":132,"z":136},
{"yr":2082,"a":128,"b":154,"c":189,"d":180,"e":112,"f":81,"g":145,"h":140,"i":228,"j":202,"k":147,"l":45,"m":40,"n":133,"z":139},
{"yr":2087,"a":134,"b":159,"c":193,"d":183,"e":110,"f":86,"g":147,"h":142,"i":233,"j":206,"k":150,"m":36,"n":136,"z":141},
{"yr":2092,"a":132,"b":161,"c":193,"d":183,"e":114,"f":90,"g":148,"h":143,"i":234,"j":204,"k":148,"m":33,"n":134,"z":145},
{"yr":2097,"a":136,"b":163,"c":196,"d":186,"e":111,"f":88,"g":149,"h":145,"i":237,"j":201,"k":152,"m":37,"n":136,"z":147}
],
"h2o": [
{"yr":1960,"a":2.4,"b":3.4,"c":1.1,"d":3.3,"e":3.0,"g":1.3,"h":2.9,"i":2.9,"j":2.1,"k":3.0,"l":3.3,"m":2.8,"n":2.25,"z":2.6,"lo":1.85,"hi":3.55},
{"yr":1965,"a":2.1,"b":3.0,"c":1.0,"d":3.2,"e":3.3,"g":1.6,"h":2.95,"i":2.85,"j":2.15,"k":2.6,"l":3.8,"m":3.5,"n":2.3,"z":2.55,"lo":1.85,"hi":3.55},
{"yr":1970,"a":2.2,"b":3.5,"c":1.05,"d":3.2,"e":2.8,"g":1.2,"h":3.0,"i":2.9,"j":2.2,"k":2.8,"l":3.0,"m":2.7,"n":2.2,"z":2.65,"lo":1.9,"hi":3.6},
{"yr":1975,"a":2.0,"b":3.1,"c":0.95,"d":3.25,"e":3.8,"g":1.4,"h":2.95,"i":2.95,"j":2.25,"k":2.5,"l":4.0,"m":3.9,"n":2.1,"z":2.6,"lo":1.9,"hi":3.6},
{"yr":1980,"a":2.1,"b":3.3,"c":1.05,"d":3.25,"e":3.0,"g":1.8,"h":3.0,"i":3.0,"j":2.3,"k":2.7,"l":3.1,"m":2.8,"n":1.95,"z":2.65,"lo":1.9,"hi":3.6},
{"yr":1985,"a":1.9,"b":3.1,"c":1.0,"d":3.3,"e":4.3,"g":1.2,"h":3.0,"i":3.0,"j":2.3,"k":2.9,"l":3.7,"m":3.5,"n":2.4,"z":2.7,"lo":1.9,"hi":3.65},
{"yr":1990,"a":2.0,"b":3.4,"c":1.1,"d":3.4,"e":3.1,"g":2.0,"h":3.05,"i":3.0,"j":2.35,"k":2.5,"l":3.2,"m":4.2,"n":2.0,"z":2.6,"lo":1.9,"hi":3.65},
{"yr":1995,"a":1.8,"b":3.2,"c":0.95,"d":3.45,"e":3.5,"g":1.3,"h":3.0,"i":3.05,"j":2.4,"k":2.8,"l":3.5,"m":2.9,"n":2.2,"z":2.6,"lo":1.9,"hi":3.65},
{"yr":2000,"a":2.0,"b":3.0,"c":1.0,"d":3.5,"e":3.0,"f":4.7,"g":1.9,"h":3.05,"i":3.1,"j":2.4,"k":2.6,"l":2.9,"m":3.3,"n":2.1,"z":2.6,"lo":1.9,"hi":3.7},
{"yr":2005,"a":1.9,"b":4.4,"c":0.95,"d":3.6,"e":3.9,"f":4.7,"g":1.2,"h":3.05,"i":3.1,"j":2.4,"k":2.9,"l":3.7,"m":3.8,"n":2.2,"z":2.8,"lo":1.9,"hi":3.7},
{"yr":2010,"a":1.8,"b":3.0,"c":1.05,"d":3.7,"e":3.2,"f":4.72,"g":1.8,"h":3.0,"i":3.2,"j":2.45,"k":2.5,"l":3.1,"m":3.0,"n":2.4,"z":2.8,"lo":1.9,"hi":3.7},
{"yr":2015,"a":2.0,"b":3.2,"c":1.0,"d":3.8,"e":4.2,"f":4.7,"g":1.3,"h":3.05,"i":3.1,"j":2.45,"k":2.8,"l":3.9,"m":3.6,"n":2.0,"z":2.85,"lo":1.9,"hi":3.7},
{"yr":2020,"a":1.8,"b":4.2,"c":1.1,"d":3.85,"e":3.0,"f":4.72,"g":1.6,"h":3.05,"i":3.1,"j":2.5,"k":2.6,"l":3.2,"m":2.8,"n":2.2,"z":2.85,"lo":1.9,"hi":3.75},
{"yr":2025,"a":1.9,"b":2.8,"c":1.2,"d":3.9,"e":3.6,"f":4.72,"g":1.2,"h":3.0,"i":3.15,"j":2.5,"k":2.9,"l":3.6,"m":3.3,"n":2.3,"z":2.75,"lo":1.9,"hi":3.75},
{"yr":2030,"a":1.8,"b":2.7,"c":1.1,"d":3.95,"e":3.2,"f":4.73,"g":1.4,"h":3.05,"i":3.2,"j":2.5,"k":2.5,"l":3.0,"m":3.5,"n":2.1,"z":2.75,"lo":1.9,"hi":3.75},
{"yr":2035,"a":2.0,"b":2.8,"c":1.15,"d":4.0,"e":4.0,"f":4.72,"g":1.2,"h":3.05,"i":3.2,"j":2.55,"k":2.8,"l":3.9,"m":2.9,"n":2.4,"z":2.75,"lo":1.9,"hi":3.75},
{"yr":2040,"a":1.8,"b":2.6,"c":1.05,"d":4.25,"e":3.0,"f":4.72,"g":1.5,"h":3.05,"i":3.2,"j":2.55,"k":2.6,"l":3.2,"m":3.2,"n":2.2,"z":2.75,"lo":1.85,"hi":3.75},
{"yr":2045,"a":1.7,"b":2.7,"c":1.1,"d":4.1,"e":3.8,"f":4.72,"g":1.3,"h":3.0,"i":3.25,"j":2.6,"k":2.9,"l":3.5,"m":3.0,"n":2.1,"z":2.7,"lo":1.85,"hi":3.75},
{"yr":2050,"a":1.9,"b":2.7,"c":1.0,"d":4.2,"e":3.3,"f":4.72,"g":1.6,"h":3.05,"i":3.2,"j":2.6,"k":2.6,"l":3.0,"m":3.4,"n":2.3,"z":2.8,"lo":1.85,"hi":3.8},
{"yr":2055,"a":1.8,"b":2.8,"c":1.15,"d":4.25,"e":4.4,"f":4.72,"g":1.2,"h":3.05,"i":3.2,"j":2.6,"k":2.7,"l":4.0,"m":2.8,"n":2.1,"z":2.78,"lo":1.85,"hi":3.8},
{"yr":2060,"a":1.7,"b":2.6,"c":1.0,"d":4.25,"e":3.0,"f":4.73,"g":1.4,"h":3.05,"i":3.2,"j":2.6,"k":2.6,"l":3.1,"m":3.3,"n":2.4,"z":2.8,"lo":1.85,"hi":3.8},
{"yr":2065,"a":1.9,"b":2.7,"c":1.1,"d":4.3,"e":4.2,"f":4.7,"g":1.8,"h":3.05,"i":3.25,"j":2.65,"k":2.8,"l":3.6,"m":3.0,"n":2.2,"z":2.75,"lo":1.85,"hi":3.8},
{"yr":2070,"a":1.7,"b":2.8,"c":1.05,"d":4.4,"e":3.2,"f":4.72,"g":1.2,"h":3.05,"i":3.25,"j":2.65,"k":2.5,"l":3.0,"m":3.2,"n":2.1,"z":2.75,"lo":1.85,"hi":3.8},
{"yr":2075,"a":1.8,"b":2.7,"c":1.2,"d":4.35,"e":3.8,"f":4.72,"g":1.5,"h":3.05,"i":3.3,"j":2.7,"k":2.7,"l":3.7,"m":2.8,"n":2.2,"z":2.75,"lo":1.85,"hi":3.85},
{"yr":2080,"a":1.6,"b":2.6,"c":1.1,"d":4.3,"e":3.1,"f":4.72,"g":1.1,"h":3.05,"i":3.5,"j":2.7,"k":2.6,"l":3.1,"m":3.4,"n":2.0,"z":2.75,"lo":1.85,"hi":3.85},
{"yr":2085,"a":1.8,"b":2.8,"c":1.15,"d":4.35,"e":4.0,"f":4.7,"g":1.4,"h":3.1,"i":3.4,"j":2.75,"k":2.9,"l":3.5,"m":2.9,"n":2.2,"z":2.72,"lo":1.85,"hi":3.85},
{"yr":2090,"a":1.7,"b":2.8,"c":1.3,"d":4.45,"e":3.3,"f":4.72,"g":0.9,"h":3.05,"i":3.6,"j":2.8,"k":2.5,"m":3.3,"n":2.1,"z":2.72,"lo":1.85,"hi":3.85},
{"yr":2095,"a":1.6,"b":2.9,"c":1.2,"d":4.3,"e":4.4,"f":4.72,"g":1.2,"h":3.1,"i":3.3,"j":2.9,"k":2.6,"m":2.5,"n":2.3,"z":2.73,"lo":1.85,"hi":3.85},
{"yr":2100,"a":1.7,"b":2.4,"c":1.25,"d":4.3,"e":3.0,"f":4.72,"g":0.95,"h":3.1,"i":3.4,"j":3.0,"k":2.1,"m":2.7,"n":2.05,"z":2.75,"lo":1.85,"hi":3.85},
{"yr":1962,"a":2.3,"b":3.1,"c":1.0,"d":3.25,"e":3.5,"g":1.5,"h":2.95,"i":2.95,"j":2.0,"k":2.7,"l":3.0,"m":3.7,"n":2.2,"z":2.55},
{"yr":1967,"a":2.0,"b":3.6,"c":1.1,"d":3.2,"e":3.2,"g":1.3,"h":2.9,"i":2.8,"j":2.2,"k":3.0,"l":3.4,"m":2.9,"n":2.25,"z":2.6},
{"yr":1972,"a":2.3,"b":3.2,"c":0.98,"d":3.2,"e":3.6,"g":1.6,"h":3.0,"i":2.95,"j":2.25,"k":2.6,"l":3.6,"m":3.2,"n":2.1,"z":2.7},
{"yr":1977,"a":1.9,"b":3.4,"c":1.05,"d":3.2,"e":3.1,"g":1.2,"h":3.0,"i":3.0,"j":2.3,"k":2.9,"l":2.9,"m":3.0,"n":2.2,"z":2.55},
{"yr":1982,"a":2.0,"b":3.1,"c":0.95,"d":3.3,"e":3.8,"g":1.3,"h":3.0,"i":2.95,"j":2.3,"k":2.5,"l":3.6,"m":3.3,"n":2.2,"z":2.7},
{"yr":1987,"a":2.1,"b":3.3,"c":1.05,"d":3.35,"e":3.2,"g":1.7,"h":3.05,"i":3.05,"j":2.35,"k":2.7,"l":3.0,"m":3.0,"n":2.1,"z":2.65},
{"yr":1992,"a":1.9,"b":3.0,"c":1.0,"d":3.4,"e":3.9,"g":1.4,"h":3.0,"i":3.0,"j":2.4,"k":2.9,"l":3.8,"m":3.3,"n":2.3,"z":2.6},
{"yr":1997,"a":2.0,"b":3.5,"c":1.0,"d":3.45,"e":3.0,"g":1.7,"h":3.05,"i":3.1,"j":2.35,"k":2.5,"l":3.1,"m":3.6,"n":2.0,"z":2.55},
{"yr":2002,"a":1.8,"b":3.4,"c":1.05,"d":3.55,"e":3.4,"f":4.68,"g":1.4,"h":3.0,"i":3.1,"j":2.4,"k":2.7,"l":3.5,"m":2.8,"n":2.3,"z":2.75},
{"yr":2007,"a":2.0,"b":3.1,"c":1.0,"d":3.65,"e":3.0,"f":4.71,"g":1.6,"h":3.05,"i":3.15,"j":2.45,"k":2.6,"l":3.0,"m":3.5,"n":2.1,"z":2.75},
{"yr":2012,"a":1.85,"b":2.9,"c":1.1,"d":3.75,"e":3.6,"f":4.72,"g":1.2,"h":3.05,"i":3.2,"j":2.45,"k":2.9,"l":3.6,"m":3.1,"n":2.3,"z":2.85},
{"yr":2017,"a":1.9,"b":3.8,"c":1.1,"d":3.9,"e":3.3,"f":4.7,"g":1.7,"h":3.0,"i":3.15,"j":2.5,"k":2.5,"l":3.2,"m":3.3,"n":2.2,"z":2.8},
{"yr":2022,"a":2.0,"b":3.0,"c":1.15,"d":3.85,"e":3.8,"f":4.73,"g":1.4,"h":3.05,"i":3.2,"j":2.5,"k":2.8,"l":3.8,"m":3.1,"n":2.1,"z":2.8},
{"yr":2027,"a":1.7,"b":2.7,"c":1.05,"d":3.95,"e":3.1,"f":4.72,"g":1.3,"h":3.05,"i":3.1,"j":2.5,"k":2.6,"l":3.1,"m":3.4,"n":2.25,"z":2.75},
{"yr":2032,"a":1.95,"b":2.8,"c":1.2,"d":3.9,"e":3.7,"f":4.72,"g":1.25,"h":3.0,"i":3.25,"j":2.55,"k":2.8,"l":3.6,"m":3.0,"n":2.3,"z":2.8},
{"yr":2037,"a":1.75,"b":2.6,"c":1.1,"d":4.05,"e":3.2,"f":4.73,"g":1.5,"h":3.05,"i":3.15,"j":2.55,"k":2.5,"l":3.1,"m":3.3,"n":2.1,"z":2.7},
{"yr":2042,"a":1.9,"b":2.8,"c":1.0,"d":4.35,"e":3.6,"f":4.71,"g":1.2,"h":3.05,"i":3.25,"j":2.6,"k":2.8,"l":3.7,"m":2.9,"n":2.3,"z":2.78},
{"yr":2047,"a":1.8,"b":2.6,"c":1.15,"d":4.15,"e":3.0,"f":4.72,"g":1.5,"h":3.05,"i":3.2,"j":2.6,"k":2.5,"l":3.1,"m":3.3,"n":2.2,"z":2.75},
{"yr":2052,"a":1.7,"b":2.8,"c":1.05,"d":4.2,"e":3.9,"f":4.72,"g":1.3,"h":3.05,"i":3.25,"j":2.6,"k":2.8,"l":3.5,"m":3.0,"n":2.2,"z":2.8},
{"yr":2057,"a":1.9,"b":2.6,"c":1.1,"d":4.2,"e":3.2,"f":4.72,"g":1.6,"h":3.05,"i":3.2,"j":2.6,"k":2.6,"l":3.2,"m":3.2,"n":2.3,"z":2.75},
{"yr":2062,"a":1.8,"b":2.8,"c":1.05,"d":4.3,"e":3.6,"f":4.71,"g":1.2,"h":3.05,"i":3.2,"j":2.6,"k":2.7,"l":3.7,"m":2.8,"n":2.1,"z":2.8},
{"yr":2067,"a":1.6,"b":2.6,"c":1.2,"d":4.35,"e":3.0,"f":4.68,"g":1.6,"h":3.05,"i":3.3,"j":2.65,"k":2.6,"l":3.2,"m":3.3,"n":2.3,"z":2.72},
{"yr":2072,"a":1.85,"b":2.7,"c":1.0,"d":4.45,"e":3.9,"f":4.72,"g":1.4,"h":3.05,"i":3.3,"j":2.7,"k":2.8,"l":3.6,"m":2.9,"n":2.2,"z":2.75},
{"yr":2077,"a":1.7,"b":2.9,"c":1.1,"d":4.3,"e":3.0,"f":4.72,"g":1.3,"h":3.05,"i":3.4,"j":2.7,"k":2.5,"l":3.2,"m":3.3,"n":2.05,"z":2.75},
{"yr":2082,"a":1.75,"b":2.7,"c":1.2,"d":4.3,"e":3.8,"f":4.71,"g":1.6,"h":3.05,"i":3.3,"j":2.75,"k":2.8,"l":3.5,"m":3.0,"n":2.25,"z":2.72},
{"yr":2087,"a":1.55,"b":2.6,"c":1.45,"d":4.35,"e":3.2,"f":4.72,"g":1.0,"h":3.05,"i":3.5,"j":2.8,"k":2.6,"m":3.5,"n":2.0,"z":2.73},
{"yr":2092,"a":1.8,"b":3.0,"c":1.2,"d":4.5,"e":3.9,"f":4.72,"g":1.3,"h":3.1,"i":3.5,"j":2.85,"k":2.7,"m":2.8,"n":2.3,"z":2.72},
{"yr":2097,"a":1.65,"b":2.6,"c":1.3,"d":4.3,"e":3.2,"f":4.72,"g":1.0,"h":3.1,"i":3.3,"j":2.95,"k":2.4,"m":2.9,"n":2.1,"z":2.75}
],
"noy": [
{"yr":1960,"a":12.5,"b":4.5,"c":3.0,"d":12.2,"e":11.5,"g":4.8,"h":8.5,"i":2.0,"j":4.3,"k":6.5,"l":12.5,"m":11.5,"n":2.3,"z":7.3,"lo":3.0,"hi":12.5},
{"yr":1965,"a":12.6,"b":6.5,"c":3.5,"d":12.0,"e":12.0,"g":5.3,"h":8.2,"i":1.9,"j":4.4,"k":8.2,"l":14.0,"m":10.0,"n":2.0,"z":7.6,"lo":3.0,"hi":12.5},
{"yr":1970,"a":12.8,"b":4.2,"c":2.5,"d":12.0,"e":11.8,"g":5.2,"h":8.0,"i":1.8,"j":4.2,"k":9.4,"l":12.0,"m":11.8,"n":2.5,"z":7.7,"lo":3.0,"hi":12.5},
{"yr":1975,"a":12.7,"b":6.0,"c":2.9,"d":12.3,"e":12.2,"g":5.0,"h":8.3,"i":2.0,"j":4.1,"k":9.2,"l":13.5,"m":10.2,"n":1.8,"z":7.5,"lo":3.0,"hi":12.5},
{"yr":1980,"a":12.8,"b":4.5,"c":2.8,"d":12.5,"e":11.7,"g":4.8,"h":8.3,"i":2.2,"j":4.0,"k":9.9,"l":12.0,"m":12.0,"n":2.2,"z":7.6,"lo":3.0,"hi":12.5},
{"yr":1985,"a":12.9,"b":5.2,"c":2.6,"d":13.0,"e":12.3,"g":5.5,"h":8.1,"i":2.1,"j":4.0,"k":10.4,"l":13.2,"m":10.5,"n":2.7,"z":7.7,"lo":3.0,"hi":12.5},
{"yr":1990,"a":13.0,"b":4.0,"c":2.5,"d":14.0,"e":11.8,"g":5.0,"h":8.0,"i":2.0,"j":3.9,"k":9.1,"l":14.0,"m":12.3,"n":1.8,"z":7.8,"lo":3.1,"hi":12.5},
{"yr":1995,"a":13.5,"b":6.5,"c":2.7,"d":15.2,"e":12.0,"g":6.5,"h":8.2,"i":2.1,"j":3.9,"k":7.3,"l":11.5,"m":10.8,"n":2.3,"z":7.5,"lo":3.1,"hi":12.4},
{"yr":2000,"a":13.6,"b":4.0,"c":2.6,"d":14.0,"e":12.2,"f":3.5,"g":4.5,"h":8.2,"i":2.2,"j":3.8,"k":5.2,"l":12.8,"m":11.5,"n":1.4,"z":7.0,"lo":3.2,"hi":12.4},
{"yr":2005,"a":13.5,"b":9.5,"c":2.5,"d":14.5,"e":11.8,"f":3.7,"g":5.2,"h":8.4,"i":2.0,"j":3.7,"k":3.8,"l":11.0,"m":10.0,"n":2.2,"z":6.9,"lo":3.2,"hi":12.3},
{"yr":2010,"a":13.6,"b":3.5,"c":2.4,"d":14.0,"e":12.0,"f":3.8,"g":5.8,"h":8.3,"i":2.0,"j":3.7,"k":3.3,"l":9.8,"m":12.8,"n":1.7,"z":6.9,"lo":3.2,"hi":12.3},
{"yr":2015,"a":13.7,"b":5.0,"c":2.5,"d":14.5,"e":12.2,"f":3.9,"g":4.0,"h":8.5,"i":1.9,"j":3.6,"k":3.2,"l":13.5,"m":11.0,"n":1.8,"z":7.1,"lo":3.2,"hi":12.3},
{"yr":2020,"a":13.8,"b":4.0,"c":2.6,"d":14.0,"e":11.9,"f":4.0,"g":4.5,"h":8.4,"i":1.9,"j":3.5,"k":3.6,"l":12.0,"m":12.3,"n":1.5,"z":7.0,"lo":3.2,"hi":12.3},
{"yr":2025,"a":13.8,"b":5.2,"c":2.5,"d":14.6,"e":12.1,"f":4.1,"g":4.6,"h":8.2,"i":2.0,"j":3.6,"k":4.2,"l":10.5,"m":10.5,"n":1.9,"z":7.0,"lo":3.2,"hi":12.2},
{"yr":2030,"a":13.8,"b":4.0,"c":2.5,"d":14.3,"e":12.0,"f":4.2,"g":4.8,"h":8.0,"i":2.0,"j":3.7,"k":5.6,"l":13.0,"m":12.5,"n":2.0,"z":7.0,"lo":3.2,"hi":12.2},
{"yr":2035,"a":13.8,"b":3.5,"c":2.4,"d":14.0,"e":11.8,"f":4.3,"g":4.3,"h":8.2,"i":2.1,"j":3.7,"k":7.2,"l":11.5,"m":10.8,"n":1.7,"z":7.0,"lo":3.3,"hi":12.2},
{"yr":2040,"a":13.8,"b":4.8,"c":2.3,"d":13.8,"e":12.2,"f":4.5,"g":4.0,"h":8.3,"i":2.2,"j":3.8,"k":8.8,"l":13.5,"m":13.0,"n":1.7,"z":7.2,"lo":3.3,"hi":12.2},
{"yr":2045,"a":13.8,"b":3.8,"c":2.4,"d":13.5,"e":12.0,"f":4.6,"g":4.3,"h":8.4,"i":2.0,"j":3.7,"k":9.3,"l":12.0,"m":11.5,"n":1.8,"z":7.3,"lo":3.3,"hi":12.1},
{"yr":2050,"a":13.9,"b":3.2,"c":2.4,"d":13.0,"e":11.9,"f":4.8,"g":4.5,"h":8.4,"i":1.9,"j":3.6,"k":9.8,"l":10.5,"m":10.2,"n":1.5,"z":7.2,"lo":3.3,"hi":12.0},
{"yr":2055,"a":14.0,"b":6.2,"c":2.5,"d":13.2,"e":12.1,"f":4.3,"g":4.3,"h":8.5,"i":2.1,"j":3.6,"k":10.5,"l":14.0,"m":12.0,"n":2.3,"z":7.0,"lo":3.3,"hi":12.0},
{"yr":2060,"a":14.0,"b":3.5,"c":2.5,"d":12.8,"e":11.8,"f":3.8,"g":4.2,"h":8.5,"i":2.2,"j":3.5,"k":8.8,"l":9.5,"m":9.2,"n":1.8,"z":7.1,"lo":3.3,"hi":11.9},
{"yr":2065,"a":14.0,"b":4.0,"c":2.4,"d":12.5,"e":12.0,"f":3.7,"g":4.1,"h":8.3,"i":2.0,"j":3.4,"k":8.9,"l":13.5,"m":12.5,"n":1.5,"z":7.0,"lo":3.3,"hi":11.8},
{"yr":2070,"a":14.0,"b":3.5,"c":2.3,"d":12.3,"e":11.9,"f":3.5,"g":4.0,"h":8.2,"i":2.0,"j":3.4,"k":4.6,"l":12.0,"m":8.8,"n":1.4,"z":6.8,"lo":3.3,"hi":11.7},
{"yr":2075,"a":14.0,"b":5.0,"c":2.4,"d":12.2,"e":12.0,"f":3.3,"g":3.8,"h":8.2,"i":2.0,"j":3.3,"k":3.3,"l":13.8,"m":11.5,"n":1.8,"z":6.8,"lo":3.3,"hi":11.6},
{"yr":2080,"a":14.0,"b":3.2,"c":2.5,"d":12.2,"e":11.8,"f":3.1,"g":3.5,"h":8.3,"i":1.9,"j":3.2,"k":3.0,"l":11.5,"m":12.0,"n":1.7,"z":6.8,"lo":3.3,"hi":11.5},
{"yr":2085,"a":14.2,"b":6.0,"c":2.4,"d":12.0,"e":12.1,"f":3.0,"g":4.0,"h":8.4,"i":2.0,"j":3.2,"k":3.2,"m":10.5,"n":1.5,"z":6.5,"lo":3.2,"hi":11.4},
{"yr":2090,"a":13.8,"b":3.8,"c":2.5,"d":12.3,"e":11.7,"f":3.0,"g":5.0,"h":8.5,"i":2.1,"j":3.1,"k":3.6,"m":12.3,"n":1.8,"z":6.4,"lo":3.2,"hi":11.3},
{"yr":2095,"a":13.8,"b":3.2,"c":2.4,"d":11.8,"e":12.0,"f":3.0,"g":4.0,"h":8.4,"i":1.9,"j":3.0,"k":5.4,"m":10.5,"n":1.6,"z":6.5,"lo":3.2,"hi":11.2},
{"yr":2100,"a":13.7,"b":3.5,"c":2.3,"d":12.0,"e":11.5,"f":3.0,"g":3.5,"h":8.3,"i":1.8,"j":3.0,"m":12.0,"n":1.6,"z":6.6,"lo":3.2,"hi":11.0},
{"yr":1962,"a":12.4,"b":6.8,"c":2.8,"d":12.0,"e":12.3,"g":4.4,"h":8.8,"i":2.1,"j":4.5,"k":8.3,"l":14.2,"m":10.2,"n":1.7,"z":7.6},
{"yr":1967,"a":12.7,"b":4.0,"c":2.8,"d":12.2,"e":11.5,"g":4.9,"h":8.0,"i":1.8,"j":4.0,"k":8.0,"l":12.2,"m":11.8,"n":2.6,"z":7.5},
{"yr":1972,"a":12.9,"b":5.5,"c":2.6,"d":12.4,"e":12.1,"g":5.5,"h":8.4,"i":2.1,"j":4.5,"k":9.7,"l":13.8,"m":9.8,"n":2.0,"z":7.7},
{"yr":1977,"a":12.6,"b":4.2,"c":2.5,"d":12.1,"e":11.9,"g":4.6,"h":8.1,"i":1.9,"j":3.9,"k":9.6,"l":11.8,"m":11.8,"n":2.1,"z":7.5},
{"yr":1982,"a":12.8,"b":6.2,"c":2.7,"d":12.3,"e":12.2,"g":5.4,"h":8.5,"i":2.3,"j":4.2,"k":10.0,"l":13.5,"m":10.0,"n":1.7,"z":7.6},
{"yr":1987,"a":13.0,"b":4.2,"c":2.4,"d":13.2,"e":11.9,"g":4.6,"h":8.0,"i":2.0,"j":3.8,"k":10.6,"l":12.0,"m":12.4,"n":2.2,"z":7.8},
{"yr":1992,"a":13.2,"b":5.5,"c":2.6,"d":14.5,"e":12.2,"g":5.6,"h":8.3,"i":2.2,"j":4.2,"k":8.2,"l":12.5,"m":10.5,"n":4.0,"z":7.6},
{"yr":1997,"a":13.6,"b":3.8,"c":2.5,"d":16.0,"e":11.9,"g":4.6,"h":8.0,"i":2.0,"j":3.8,"k":6.2,"l":13.5,"m":12.0,"n":1.8,"z":7.2},
{"yr":2002,"a":13.5,"b":5.5,"c":2.7,"d":14.8,"e":12.0,"f":3.4,"g":5.5,"h":8.5,"i":2.1,"j":3.9,"k":4.3,"l":12.0,"m":12.5,"n":1.9,"z":6.9},
{"yr":2007,"a":13.7,"b":4.5,"c":2.4,"d":13.8,"e":12.3,"f":3.9,"g":4.3,"h":8.2,"i":2.0,"j":3.6,"k":3.6,"l":12.8,"m":11.5,"n":2.5,"z":7.0},
{"yr":2012,"a":13.6,"b":4.2,"c":2.6,"d":14.8,"e":11.9,"f":3.7,"g":4.8,"h":8.4,"i":2.1,"j":3.8,"k":3.2,"l":12.0,"m":10.5,"n":1.6,"z":6.8},
{"yr":2017,"a":13.7,"b":7.0,"c":2.4,"d":13.8,"e":12.0,"f":4.1,"g":4.4,"h":8.2,"i":1.8,"j":3.5,"k":3.3,"l":11.0,"m":12.5,"n":2.1,"z":7.1},
{"yr":2022,"a":13.8,"b":3.8,"c":2.7,"d":15.0,"e":12.2,"f":4.0,"g":5.0,"h":8.6,"i":2.0,"j":3.7,"k":3.8,"l":13.8,"m":11.0,"n":1.7,"z":7.0},
{"yr":2027,"a":13.8,"b":4.5,"c":2.4,"d":14.0,"e":11.9,"f":4.3,"g":4.2,"h":8.0,"i":1.9,"j":3.5,"k":4.6,"l":12.3,"m":12.0,"n":1.6,"z":7.1},
{"yr":2032,"a":13.7,"b":5.2,"c":2.6,"d":14.8,"e":12.2,"f":4.0,"g":5.0,"h":8.4,"i":2.1,"j":3.8,"k":6.3,"l":10.3,"m":11.2,"n":1.8,"z":6.9},
{"yr":2037,"a":13.9,"b":4.0,"c":2.3,"d":13.9,"e":11.9,"f":4.6,"g":4.6,"h":8.1,"i":2.0,"j":3.6,"k":8.5,"l":12.8,"m":12.2,"n":2.0,"z":7.2},
{"yr":2042,"a":13.8,"b":4.2,"c":2.5,"d":14.5,"e":12.0,"f":4.4,"g":4.5,"h":8.5,"i":2.1,"j":3.8,"k":8.9,"l":11.5,"m":11.0,"n":1.6,"z":7.2},
{"yr":2047,"a":13.9,"b":4.5,"c":2.3,"d":13.3,"e":12.2,"f":5.0,"g":4.0,"h":8.2,"i":2.0,"j":3.6,"k":9.5,"l":13.0,"m":12.5,"n":1.9,"z":7.3},
{"yr":2052,"a":14.0,"b":3.5,"c":2.5,"d":13.1,"e":11.8,"f":4.5,"g":4.6,"h":8.6,"i":2.2,"j":3.7,"k":10.2,"l":11.5,"m":11.0,"n":1.6,"z":7.1},
{"yr":2057,"a":14.0,"b":4.4,"c":2.4,"d":13.0,"e":12.0,"f":4.2,"g":4.1,"h":8.3,"i":1.9,"j":3.5,"k":9.0,"l":12.0,"m":12.0,"n":1.5,"z":7.0},
{"yr":2062,"a":14.1,"b":4.2,"c":2.6,"d":12.7,"e":12.1,"f":3.9,"g":4.4,"h":8.6,"i":2.1,"j":3.5,"k":8.7,"l":12.8,"m":11.0,"n":1.9,"z":7.2},
{"yr":2067,"a":14.0,"b":3.6,"c":2.3,"d":12.3,"e":11.8,"f":3.6,"g":4.3,"h":8.1,"i":2.1,"j":3.4,"k":5.2,"l":11.5,"m":12.2,"n":1.4,"z":6.9},
{"yr":2072,"a":14.1,"b":4.4,"c":2.5,"d":12.4,"e":12.2,"f":3.4,"g":3.9,"h":8.4,"i":1.9,"j":3.3,"k":4.0,"l":13.5,"m":11.8,"n":1.5,"z":6.8},
{"yr":2077,"a":14.2,"b":6.0,"c":2.3,"d":12.1,"e":11.8,"f":3.2,"g":3.6,"h":8.1,"i":2.1,"j":3.3,"k":3.0,"l":12.3,"m":10.2,"n":1.9,"z":6.9},
{"yr":2082,"a":14.0,"b":3.8,"c":2.5,"d":12.3,"e":12.2,"f":3.1,"g":3.8,"h":8.5,"i":2.0,"j":3.2,"k":3.2,"l":12.5,"m":11.8,"n":1.4,"z":6.7},
{"yr":2087,"a":14.0,"b":4.5,"c":2.3,"d":12.2,"e":11.8,"f":3.0,"g":4.5,"h":8.2,"i":1.9,"j":3.1,"k":3.4,"m":12.8,"n":1.9,"z":6.4},
{"yr":2092,"a":13.9,"b":3.4,"c":2.6,"d":12.5,"e":12.3,"f":3.1,"g":4.4,"h":8.6,"i":2.0,"j":3.1,"k":4.6,"m":11.0,"n":1.5,"z":6.4},
{"yr":2097,"a":13.8,"b":3.6,"c":2.4,"d":11.6,"e":11.6,"f":3.0,"g":3.7,"h":8.3,"i":1.9,"j":3.0,"k":5.6,"m":12.5,"n":1.7,"z":6.6}
]
},
"concat": [
{
 "title": "O3 50hPa 90S 60S SON",
 "width": 312, "height": 310,
 "data": {"name": "o3"},
 "layer": [
  {"mark": {"type": "area", "color": "#DDDEE0"},
   "transform": [{"filter": "isValid(datum.lo)"}],
   "encoding": {
    "x": {"field": "yr", "type": "quantitative", "scale": {"domain": [1960, 2100], "nice": false, "zero": false},
      "axis": {"orient": "bottom", "title": null, "values": [1960,1964,1968,1972,1976,1980,1984,1988,1992,1996,2000,2004,2008,2012,2016,2020,2024,2028,2032,2036,2040,2044,2048,2052,2056,2060,2064,2068,2072,2076,2080,2084,2088,2092,2096,2100], "labelExpr": "datum.value % 20 == 0 ? '' + datum.value : ''", "tickSize": {"condition": {"test": "datum.value % 20 == 0", "value": 8}, "value": 4}, "labelFont": "Liberation Sans Narrow, Liberation Sans", "labelFontSize": 19, "labelPadding": 5, "labelOffset": -7}},
    "y": {"field": "lo", "type": "quantitative", "scale": {"domain": [0, 6], "nice": false},
      "axis": {"orient": "left", "title": "O3 (ppmv)", "titleFontSize": 17.5, "titleFontWeight": "normal", "titlePadding": 10, "values": [0,0.2,0.4,0.6,0.8,1,1.2,1.4,1.6,1.8,2,2.2,2.4,2.6,2.8,3,3.2,3.4,3.6,3.8,4,4.2,4.4,4.6,4.8,5,5.2,5.4,5.6,5.8,6], "labelExpr": "abs(datum.value - round(datum.value)) < 0.01 ? format(datum.value, '.1f') : ''", "tickSize": {"condition": {"test": "abs(datum.value - round(datum.value)) < 0.01", "value": 8}, "value": 4}, "labelFontSize": 20, "labelPadding": 5}},
    "y2": {"field": "hi"}
   }},
  {"mark": {"type": "line", "strokeJoin": "round"},
   "transform": [{"fold": ["a","b","c","d","e","f","g","h","i","j","k","l","m","n","z"], "as": ["k", "v"]}, {"filter": "isValid(datum.v)"}, {"lookup": "k", "from": {"data": {"name": "names"}, "key": "k", "fields": ["name"]}}],
   "encoding": {
    "x": {"field": "yr", "type": "quantitative", "axis": {"orient": "top", "title": null, "labels": false, "values": [1960,1964,1968,1972,1976,1980,1984,1988,1992,1996,2000,2004,2008,2012,2016,2020,2024,2028,2032,2036,2040,2044,2048,2052,2056,2060,2064,2068,2072,2076,2080,2084,2088,2092,2096,2100], "tickSize": {"condition": {"test": "datum.value % 20 == 0", "value": 8}, "value": 4}}},
    "y": {"field": "v", "type": "quantitative", "axis": {"orient": "right", "title": null, "labels": false, "values": [0,0.2,0.4,0.6,0.8,1,1.2,1.4,1.6,1.8,2,2.2,2.4,2.6,2.8,3,3.2,3.4,3.6,3.8,4,4.2,4.4,4.6,4.8,5,5.2,5.4,5.6,5.8,6], "tickSize": {"condition": {"test": "abs(datum.value - round(datum.value)) < 0.01", "value": 8}, "value": 4}}},
    "color": {"field": "name", "type": "nominal", "scale": {"domain": ["AMTRAC3","CAM3.5","CCSRNIES","CMAM","CNRM-ACM","GEOSCCM","LMDZrepro","MRI","SOCOL","ULAQ","UMSLIMCAT","UMUKCA-METO","UMUKCA-UCAM","WACCM","MMM"], "range": ["#1DA7CF","#C17DBE","#EEB522","#EE2428","#7D2A84","#7D2A84","#EE2428","#1A8B47","#9ACA3C","#F58A35","#EC1B8D","#178F45","#2B3E93","#2A4497","#231F20"]},
      "legend": {"title": null, "orient": "none", "legendX": 822.5, "legendY": 391, "symbolType": "M-4,0H4", "symbolSize": 361, "symbolStrokeWidth": 3, "labelFontSize": 22.5, "labelFont": "Liberation Sans", "labelLimit": 0, "labelColor": {"expr": "scale('color', datum.value)"}, "rowPadding": 1, "labelOffset": 36.5, "padding": 0}},
    "strokeDash": {"field": "name", "type": "nominal", "scale": {"domain": ["AMTRAC3","CAM3.5","CCSRNIES","CMAM","CNRM-ACM","GEOSCCM","LMDZrepro","MRI","SOCOL","ULAQ","UMSLIMCAT","UMUKCA-METO","UMUKCA-UCAM","WACCM","MMM"], "range": [[1,0],[1,0],[1,0],[1,0],[5,3],[1,0],[5,3],[5,3],[1,0],[5,3],[1,0],[1,0],[5,3],[1,0],[1,0]]},
      "legend": {"title": null, "orient": "none", "legendX": 822.5, "legendY": 391, "symbolType": "M-4,0H4", "symbolSize": 361, "symbolStrokeWidth": 3, "labelFontSize": 22.5, "labelFont": "Liberation Sans", "labelLimit": 0, "labelColor": {"expr": "scale('color', datum.value)"}, "rowPadding": 1, "labelOffset": 36.5, "padding": 0}},
    "strokeWidth": {"condition": {"test": "datum.name === 'MMM'", "value": 3.5}, "value": 2.5}
   }}
 ],
 "resolve": {"axis": {"x": "independent", "y": "independent"}}
},
{
 "title": "CH4 50hPa 90S 60S SON",
 "width": 312, "height": 310,
 "data": {"name": "ch4"},
 "layer": [
  {"mark": {"type": "area", "color": "#DDDEE0"},
   "transform": [{"filter": "isValid(datum.lo)"}],
   "encoding": {
    "x": {"field": "yr", "type": "quantitative", "scale": {"domain": [1960, 2100], "nice": false, "zero": false},
      "axis": {"orient": "bottom", "title": null, "values": [1960,1964,1968,1972,1976,1980,1984,1988,1992,1996,2000,2004,2008,2012,2016,2020,2024,2028,2032,2036,2040,2044,2048,2052,2056,2060,2064,2068,2072,2076,2080,2084,2088,2092,2096,2100], "labelExpr": "datum.value % 20 == 0 ? '' + datum.value : ''", "tickSize": {"condition": {"test": "datum.value % 20 == 0", "value": 8}, "value": 4}, "labelFont": "Liberation Sans Narrow, Liberation Sans", "labelFontSize": 19, "labelPadding": 5, "labelOffset": -7}},
    "y": {"field": "lo", "type": "quantitative", "scale": {"domain": [0, 2.05], "nice": false},
      "axis": {"orient": "left", "title": "CH4 (ppmv)", "titleFontSize": 17.5, "titleFontWeight": "normal", "titlePadding": 7, "values": [0,0.1,0.2,0.3,0.4,0.5,0.6,0.7,0.8,0.9,1.0,1.1,1.2,1.3,1.4,1.5,1.6,1.7,1.8,1.9,2.0], "labelExpr": "round(datum.value*10) % 3 == 0 ? format(datum.value, '.1f') : ''", "tickSize": {"condition": {"test": "round(datum.value*10) % 3 == 0", "value": 8}, "value": 4}, "labelFontSize": 20, "labelPadding": 5}},
    "y2": {"field": "hi"}
   }},
  {"mark": {"type": "line", "strokeJoin": "round"},
   "transform": [{"fold": ["a","b","c","d","e","f","g","h","i","j","k","l","m","n","z"], "as": ["k", "v"]}, {"filter": "isValid(datum.v)"}, {"lookup": "k", "from": {"data": {"name": "names"}, "key": "k", "fields": ["name"]}}],
   "encoding": {
    "x": {"field": "yr", "type": "quantitative", "axis": {"orient": "top", "title": null, "labels": false, "values": [1960,1964,1968,1972,1976,1980,1984,1988,1992,1996,2000,2004,2008,2012,2016,2020,2024,2028,2032,2036,2040,2044,2048,2052,2056,2060,2064,2068,2072,2076,2080,2084,2088,2092,2096,2100], "tickSize": {"condition": {"test": "datum.value % 20 == 0", "value": 8}, "value": 4}}},
    "y": {"field": "v", "type": "quantitative", "axis": {"orient": "right", "title": null, "labels": false, "values": [0,0.1,0.2,0.3,0.4,0.5,0.6,0.7,0.8,0.9,1.0,1.1,1.2,1.3,1.4,1.5,1.6,1.7,1.8,1.9,2.0], "tickSize": {"condition": {"test": "round(datum.value*10) % 3 == 0", "value": 8}, "value": 4}}},
    "color": {"field": "name", "type": "nominal", "scale": {"domain": ["AMTRAC3","CAM3.5","CCSRNIES","CMAM","CNRM-ACM","GEOSCCM","LMDZrepro","MRI","SOCOL","ULAQ","UMSLIMCAT","UMUKCA-METO","UMUKCA-UCAM","WACCM","MMM"], "range": ["#1DA7CF","#C17DBE","#EEB522","#EE2428","#7D2A84","#7D2A84","#EE2428","#1A8B47","#9ACA3C","#F58A35","#EC1B8D","#178F45","#2B3E93","#2A4497","#231F20"]}},
    "strokeDash": {"field": "name", "type": "nominal", "scale": {"domain": ["AMTRAC3","CAM3.5","CCSRNIES","CMAM","CNRM-ACM","GEOSCCM","LMDZrepro","MRI","SOCOL","ULAQ","UMSLIMCAT","UMUKCA-METO","UMUKCA-UCAM","WACCM","MMM"], "range": [[1,0],[1,0],[1,0],[1,0],[5,3],[1,0],[5,3],[5,3],[1,0],[5,3],[1,0],[1,0],[5,3],[1,0],[1,0]]}},
    "strokeWidth": {"condition": {"test": "datum.name === 'MMM'", "value": 3.5}, "value": 2.5}
   }}
 ],
 "resolve": {"axis": {"x": "independent", "y": "independent"}}
},
{
 "title": "N2O 50hPa 90S 60S SON",
 "width": 309, "height": 310,
 "data": {"name": "n2o"},
 "layer": [
  {"mark": {"type": "area", "color": "#DDDEE0"},
   "transform": [{"filter": "isValid(datum.lo)"}],
   "encoding": {
    "x": {"field": "yr", "type": "quantitative", "scale": {"domain": [1960, 2100], "nice": false, "zero": false},
      "axis": {"orient": "bottom", "title": null, "values": [1960,1964,1968,1972,1976,1980,1984,1988,1992,1996,2000,2004,2008,2012,2016,2020,2024,2028,2032,2036,2040,2044,2048,2052,2056,2060,2064,2068,2072,2076,2080,2084,2088,2092,2096,2100], "labelExpr": "datum.value % 20 == 0 ? '' + datum.value : ''", "tickSize": {"condition": {"test": "datum.value % 20 == 0", "value": 8}, "value": 4}, "labelFont": "Liberation Sans Narrow, Liberation Sans", "labelFontSize": 19, "labelPadding": 14, "labelOffset": -7}},
    "y": {"field": "lo", "type": "quantitative", "scale": {"domain": [0, 303], "nice": false},
      "axis": {"orient": "left", "title": "N2O (ppbv)", "titleFontSize": 17.5, "titleFontWeight": "normal", "titlePadding": -8, "values": [0,10,20,30,40,50,60,70,80,90,100,110,120,130,140,150,160,170,180,190,200,210,220,230,240,250,260,270,280,290,300], "labelExpr": "datum.value % 50 == 0 ? '' + datum.value : ''", "tickSize": {"condition": {"test": "datum.value % 50 == 0", "value": 8}, "value": 4}, "labelFontSize": 20, "labelPadding": 5}},
    "y2": {"field": "hi"}
   }},
  {"mark": {"type": "line", "strokeJoin": "round"},
   "transform": [{"fold": ["a","b","c","d","e","f","g","h","i","j","k","l","m","n","z"], "as": ["k", "v"]}, {"filter": "isValid(datum.v)"}, {"lookup": "k", "from": {"data": {"name": "names"}, "key": "k", "fields": ["name"]}}],
   "encoding": {
    "x": {"field": "yr", "type": "quantitative", "axis": {"orient": "top", "title": null, "labels": false, "values": [1960,1964,1968,1972,1976,1980,1984,1988,1992,1996,2000,2004,2008,2012,2016,2020,2024,2028,2032,2036,2040,2044,2048,2052,2056,2060,2064,2068,2072,2076,2080,2084,2088,2092,2096,2100], "tickSize": {"condition": {"test": "datum.value % 20 == 0", "value": 8}, "value": 4}}},
    "y": {"field": "v", "type": "quantitative", "axis": {"orient": "right", "title": null, "labels": false, "values": [0,10,20,30,40,50,60,70,80,90,100,110,120,130,140,150,160,170,180,190,200,210,220,230,240,250,260,270,280,290,300], "tickSize": {"condition": {"test": "datum.value % 50 == 0", "value": 8}, "value": 4}}},
    "color": {"field": "name", "type": "nominal", "scale": {"domain": ["AMTRAC3","CAM3.5","CCSRNIES","CMAM","CNRM-ACM","GEOSCCM","LMDZrepro","MRI","SOCOL","ULAQ","UMSLIMCAT","UMUKCA-METO","UMUKCA-UCAM","WACCM","MMM"], "range": ["#1DA7CF","#C17DBE","#EEB522","#EE2428","#7D2A84","#7D2A84","#EE2428","#1A8B47","#9ACA3C","#F58A35","#EC1B8D","#178F45","#2B3E93","#2A4497","#231F20"]}},
    "strokeDash": {"field": "name", "type": "nominal", "scale": {"domain": ["AMTRAC3","CAM3.5","CCSRNIES","CMAM","CNRM-ACM","GEOSCCM","LMDZrepro","MRI","SOCOL","ULAQ","UMSLIMCAT","UMUKCA-METO","UMUKCA-UCAM","WACCM","MMM"], "range": [[1,0],[1,0],[1,0],[1,0],[5,3],[1,0],[5,3],[5,3],[1,0],[5,3],[1,0],[1,0],[5,3],[1,0],[1,0]]}},
    "strokeWidth": {"condition": {"test": "datum.name === 'MMM'", "value": 3.5}, "value": 2.5}
   }}
 ],
 "resolve": {"axis": {"x": "independent", "y": "independent"}}
},
{
 "title": "H2O 50hPa 90S 60S SON",
 "width": 312, "height": 314,
 "data": {"name": "h2o"},
 "layer": [
  {"mark": {"type": "area", "color": "#DDDEE0"},
   "transform": [{"filter": "isValid(datum.lo)"}],
   "encoding": {
    "x": {"field": "yr", "type": "quantitative", "scale": {"domain": [1960, 2100], "nice": false, "zero": false},
      "axis": {"orient": "bottom", "title": null, "values": [1960,1964,1968,1972,1976,1980,1984,1988,1992,1996,2000,2004,2008,2012,2016,2020,2024,2028,2032,2036,2040,2044,2048,2052,2056,2060,2064,2068,2072,2076,2080,2084,2088,2092,2096,2100], "labelExpr": "datum.value % 20 == 0 ? '' + datum.value : ''", "tickSize": {"condition": {"test": "datum.value % 20 == 0", "value": 8}, "value": 4}, "labelFont": "Liberation Sans Narrow, Liberation Sans", "labelFontSize": 19, "labelPadding": 5, "labelOffset": -7}},
    "y": {"field": "lo", "type": "quantitative", "scale": {"domain": [0, 6], "nice": false},
      "axis": {"orient": "left", "title": "H2O (ppmv)", "titleFontSize": 17.5, "titleFontWeight": "normal", "titlePadding": 24, "values": [0,0.2,0.4,0.6,0.8,1,1.2,1.4,1.6,1.8,2,2.2,2.4,2.6,2.8,3,3.2,3.4,3.6,3.8,4,4.2,4.4,4.6,4.8,5,5.2,5.4,5.6,5.8,6], "labelExpr": "abs(datum.value - round(datum.value)) < 0.01 ? '' + round(datum.value) : ''", "tickSize": {"condition": {"test": "abs(datum.value - round(datum.value)) < 0.01", "value": 8}, "value": 4}, "labelFontSize": 20, "labelPadding": 5}},
    "y2": {"field": "hi"}
   }},
  {"mark": {"type": "line", "strokeJoin": "round"},
   "transform": [{"fold": ["a","b","c","d","e","f","g","h","i","j","k","l","m","n","z"], "as": ["k", "v"]}, {"filter": "isValid(datum.v)"}, {"lookup": "k", "from": {"data": {"name": "names"}, "key": "k", "fields": ["name"]}}],
   "encoding": {
    "x": {"field": "yr", "type": "quantitative", "axis": {"orient": "top", "title": null, "labels": false, "values": [1960,1964,1968,1972,1976,1980,1984,1988,1992,1996,2000,2004,2008,2012,2016,2020,2024,2028,2032,2036,2040,2044,2048,2052,2056,2060,2064,2068,2072,2076,2080,2084,2088,2092,2096,2100], "tickSize": {"condition": {"test": "datum.value % 20 == 0", "value": 8}, "value": 4}}},
    "y": {"field": "v", "type": "quantitative", "axis": {"orient": "right", "title": null, "labels": false, "values": [0,0.2,0.4,0.6,0.8,1,1.2,1.4,1.6,1.8,2,2.2,2.4,2.6,2.8,3,3.2,3.4,3.6,3.8,4,4.2,4.4,4.6,4.8,5,5.2,5.4,5.6,5.8,6], "tickSize": {"condition": {"test": "abs(datum.value - round(datum.value)) < 0.01", "value": 8}, "value": 4}}},
    "color": {"field": "name", "type": "nominal", "scale": {"domain": ["AMTRAC3","CAM3.5","CCSRNIES","CMAM","CNRM-ACM","GEOSCCM","LMDZrepro","MRI","SOCOL","ULAQ","UMSLIMCAT","UMUKCA-METO","UMUKCA-UCAM","WACCM","MMM"], "range": ["#1DA7CF","#C17DBE","#EEB522","#EE2428","#7D2A84","#7D2A84","#EE2428","#1A8B47","#9ACA3C","#F58A35","#EC1B8D","#178F45","#2B3E93","#2A4497","#231F20"]}},
    "strokeDash": {"field": "name", "type": "nominal", "scale": {"domain": ["AMTRAC3","CAM3.5","CCSRNIES","CMAM","CNRM-ACM","GEOSCCM","LMDZrepro","MRI","SOCOL","ULAQ","UMSLIMCAT","UMUKCA-METO","UMUKCA-UCAM","WACCM","MMM"], "range": [[1,0],[1,0],[1,0],[1,0],[5,3],[1,0],[5,3],[5,3],[1,0],[5,3],[1,0],[1,0],[5,3],[1,0],[1,0]]}},
    "strokeWidth": {"condition": {"test": "datum.name === 'MMM'", "value": 3.5}, "value": 2.5}
   }}
 ],
 "resolve": {"axis": {"x": "independent", "y": "independent"}}
},
{
 "title": "NOy 50hPa 90S 60S SON",
 "width": 316, "height": 314,
 "data": {"name": "noy"},
 "layer": [
  {"mark": {"type": "area", "color": "#DDDEE0"},
   "transform": [{"filter": "isValid(datum.lo)"}],
   "encoding": {
    "x": {"field": "yr", "type": "quantitative", "scale": {"domain": [1960, 2100], "nice": false, "zero": false},
      "axis": {"orient": "bottom", "title": null, "values": [1960,1964,1968,1972,1976,1980,1984,1988,1992,1996,2000,2004,2008,2012,2016,2020,2024,2028,2032,2036,2040,2044,2048,2052,2056,2060,2064,2068,2072,2076,2080,2084,2088,2092,2096,2100], "labelExpr": "datum.value % 20 == 0 ? '' + datum.value : ''", "tickSize": {"condition": {"test": "datum.value % 20 == 0", "value": 8}, "value": 4}, "labelFont": "Liberation Sans Narrow, Liberation Sans", "labelFontSize": 19, "labelPadding": 5, "labelOffset": -7}},
    "y": {"field": "lo", "type": "quantitative", "scale": {"domain": [0, 18], "nice": false},
      "axis": {"orient": "left", "title": "NOy (ppbv)", "titleFontSize": 17.5, "titleFontWeight": "normal", "titlePadding": 8, "values": [0,1,2,3,4,5,6,7,8,9,10,11,12,13,14,15,16,17,18], "labelExpr": "datum.value % 3 == 0 ? '' + datum.value : ''", "tickSize": {"condition": {"test": "datum.value % 3 == 0", "value": 8}, "value": 4}, "labelFontSize": 20, "labelPadding": 5}},
    "y2": {"field": "hi"}
   }},
  {"mark": {"type": "line", "strokeJoin": "round"},
   "transform": [{"fold": ["a","b","c","d","e","f","g","h","i","j","k","l","m","n","z"], "as": ["k", "v"]}, {"filter": "isValid(datum.v)"}, {"lookup": "k", "from": {"data": {"name": "names"}, "key": "k", "fields": ["name"]}}],
   "encoding": {
    "x": {"field": "yr", "type": "quantitative", "axis": {"orient": "top", "title": null, "labels": false, "values": [1960,1964,1968,1972,1976,1980,1984,1988,1992,1996,2000,2004,2008,2012,2016,2020,2024,2028,2032,2036,2040,2044,2048,2052,2056,2060,2064,2068,2072,2076,2080,2084,2088,2092,2096,2100], "tickSize": {"condition": {"test": "datum.value % 20 == 0", "value": 8}, "value": 4}}},
    "y": {"field": "v", "type": "quantitative", "axis": {"orient": "right", "title": null, "labels": false, "values": [0,1,2,3,4,5,6,7,8,9,10,11,12,13,14,15,16,17,18], "tickSize": {"condition": {"test": "datum.value % 3 == 0", "value": 8}, "value": 4}}},
    "color": {"field": "name", "type": "nominal", "scale": {"domain": ["AMTRAC3","CAM3.5","CCSRNIES","CMAM","CNRM-ACM","GEOSCCM","LMDZrepro","MRI","SOCOL","ULAQ","UMSLIMCAT","UMUKCA-METO","UMUKCA-UCAM","WACCM","MMM"], "range": ["#1DA7CF","#C17DBE","#EEB522","#EE2428","#7D2A84","#7D2A84","#EE2428","#1A8B47","#9ACA3C","#F58A35","#EC1B8D","#178F45","#2B3E93","#2A4497","#231F20"]}},
    "strokeDash": {"field": "name", "type": "nominal", "scale": {"domain": ["AMTRAC3","CAM3.5","CCSRNIES","CMAM","CNRM-ACM","GEOSCCM","LMDZrepro","MRI","SOCOL","ULAQ","UMSLIMCAT","UMUKCA-METO","UMUKCA-UCAM","WACCM","MMM"], "range": [[1,0],[1,0],[1,0],[1,0],[5,3],[1,0],[5,3],[5,3],[1,0],[5,3],[1,0],[1,0],[5,3],[1,0],[1,0]]}},
    "strokeWidth": {"condition": {"test": "datum.name === 'MMM'", "value": 3.5}, "value": 2.5}
   }}
 ],
 "resolve": {"axis": {"x": "independent", "y": "independent"}}
}
]
}
